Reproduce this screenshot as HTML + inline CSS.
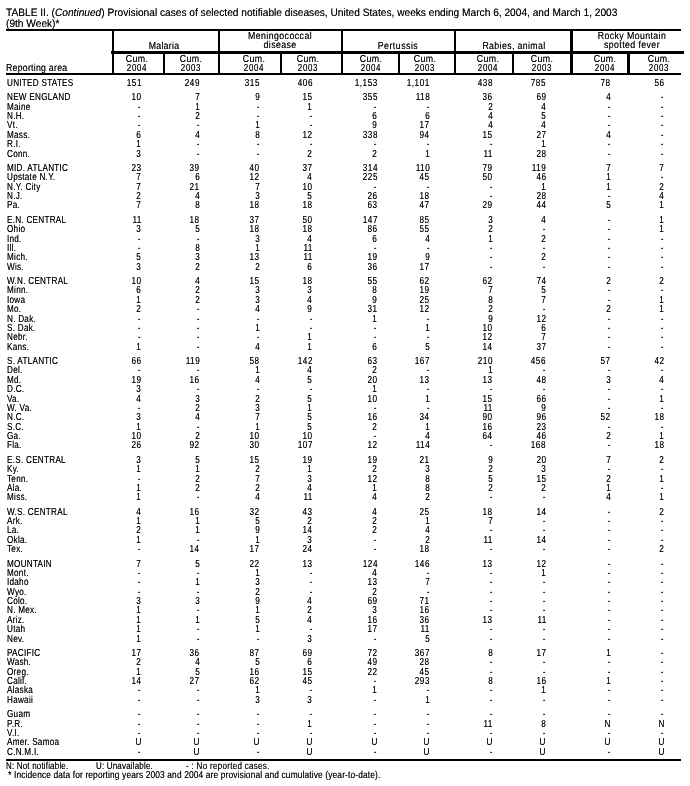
<!DOCTYPE html>
<html><head><meta charset="utf-8"><style>
html,body{margin:0;padding:0;background:#fff;}
body{width:690px;height:786px;position:relative;overflow:hidden;font-family:"Liberation Sans",sans-serif;color:#000;}
#w{position:absolute;left:0;top:0;width:690px;height:786px;will-change:transform;}
.t{position:absolute;white-space:nowrap;line-height:1;text-rendering:geometricPrecision;text-shadow:0px 0 0 rgba(0,0,0,0.6);}
.l{position:absolute;background:#000;}
</style></head><body><div id="w">
<div class="t" style="top:8px;font-size:10.75px;left:6.30px;transform:scaleX(0.945);transform-origin:0 0;">TABLE II. (<i>Continued</i>) Provisional cases of selected notifiable diseases, United States, weeks ending March 6, 2004, and March 1, 2003</div>
<div class="t" style="top:19px;font-size:10.75px;left:5.90px;transform:scaleX(0.945);transform-origin:0 0;">(9th Week)*</div>
<div class="l" style="left:6px;top:29px;width:675px;height:2px"></div>
<div class="l" style="left:111px;top:51.2px;width:573px;height:2.6px"></div>
<div class="l" style="left:6px;top:73px;width:675px;height:2px"></div>
<div class="l" style="left:6px;top:759px;width:675px;height:2px"></div>
<div class="l" style="left:112px;top:29px;width:2px;height:46px"></div>
<div class="l" style="left:218px;top:29px;width:2px;height:46px"></div>
<div class="l" style="left:341px;top:29px;width:2px;height:46px"></div>
<div class="l" style="left:454px;top:29px;width:2px;height:46px"></div>
<div class="l" style="left:570px;top:29px;width:2.8px;height:46px"></div>
<div class="l" style="left:163px;top:51.2px;width:2px;height:23.8px"></div>
<div class="l" style="left:279.5px;top:51.2px;width:2.6px;height:23.8px"></div>
<div class="l" style="left:398px;top:51.2px;width:2px;height:23.8px"></div>
<div class="l" style="left:512px;top:51.2px;width:2px;height:23.8px"></div>
<div class="l" style="left:627px;top:51.2px;width:2.8px;height:23.8px"></div>
<div class="t" style="top:64px;font-size:10.2px;letter-spacing:0.285px;left:5.95px;transform:scaleX(0.86);transform-origin:0 0;">Reporting area</div>
<div class="t" style="top:42px;font-size:10.2px;letter-spacing:0.303px;left:163.53px;transform:translateX(-50%) scaleX(0.86);">Malaria</div>
<div class="t" style="top:32px;font-size:10.2px;letter-spacing:0.515px;left:280.42px;transform:translateX(-50%) scaleX(0.86);">Meningococcal</div>
<div class="t" style="top:41px;font-size:10.2px;letter-spacing:0.446px;left:280.39px;transform:translateX(-50%) scaleX(0.86);">disease</div>
<div class="t" style="top:42px;font-size:10.2px;letter-spacing:0.575px;left:397.65px;transform:translateX(-50%) scaleX(0.86);">Pertussis</div>
<div class="t" style="top:42px;font-size:10.2px;letter-spacing:0.437px;left:514.49px;transform:translateX(-50%) scaleX(0.86);">Rabies, animal</div>
<div class="t" style="top:32px;font-size:10.2px;letter-spacing:0.458px;left:632.10px;transform:translateX(-50%) scaleX(0.86);">Rocky Mountain</div>
<div class="t" style="top:41px;font-size:10.2px;letter-spacing:0.474px;left:632.10px;transform:translateX(-50%) scaleX(0.86);">spotted fever</div>
<div class="t" style="top:55px;font-size:10.2px;letter-spacing:0.528px;left:136.73px;transform:translateX(-50%) scaleX(0.86);">Cum.</div>
<div class="t" style="top:64px;font-size:10.2px;letter-spacing:0.862px;left:136.84px;transform:translateX(-50%) scaleX(0.78);">2004</div>
<div class="t" style="top:55px;font-size:10.2px;letter-spacing:0.528px;left:190.83px;transform:translateX(-50%) scaleX(0.86);">Cum.</div>
<div class="t" style="top:64px;font-size:10.2px;letter-spacing:0.862px;left:190.94px;transform:translateX(-50%) scaleX(0.78);">2003</div>
<div class="t" style="top:55px;font-size:10.2px;letter-spacing:0.528px;left:253.83px;transform:translateX(-50%) scaleX(0.86);">Cum.</div>
<div class="t" style="top:64px;font-size:10.2px;letter-spacing:0.862px;left:253.94px;transform:translateX(-50%) scaleX(0.78);">2004</div>
<div class="t" style="top:55px;font-size:10.2px;letter-spacing:0.528px;left:307.53px;transform:translateX(-50%) scaleX(0.86);">Cum.</div>
<div class="t" style="top:64px;font-size:10.2px;letter-spacing:0.862px;left:307.64px;transform:translateX(-50%) scaleX(0.78);">2003</div>
<div class="t" style="top:55px;font-size:10.2px;letter-spacing:0.528px;left:370.73px;transform:translateX(-50%) scaleX(0.86);">Cum.</div>
<div class="t" style="top:64px;font-size:10.2px;letter-spacing:0.862px;left:370.84px;transform:translateX(-50%) scaleX(0.78);">2004</div>
<div class="t" style="top:55px;font-size:10.2px;letter-spacing:0.528px;left:424.63px;transform:translateX(-50%) scaleX(0.86);">Cum.</div>
<div class="t" style="top:64px;font-size:10.2px;letter-spacing:0.862px;left:424.74px;transform:translateX(-50%) scaleX(0.78);">2003</div>
<div class="t" style="top:55px;font-size:10.2px;letter-spacing:0.528px;left:487.93px;transform:translateX(-50%) scaleX(0.86);">Cum.</div>
<div class="t" style="top:64px;font-size:10.2px;letter-spacing:0.862px;left:488.04px;transform:translateX(-50%) scaleX(0.78);">2004</div>
<div class="t" style="top:55px;font-size:10.2px;letter-spacing:0.528px;left:541.83px;transform:translateX(-50%) scaleX(0.86);">Cum.</div>
<div class="t" style="top:64px;font-size:10.2px;letter-spacing:0.862px;left:541.94px;transform:translateX(-50%) scaleX(0.78);">2003</div>
<div class="t" style="top:55px;font-size:10.2px;letter-spacing:0.528px;left:604.73px;transform:translateX(-50%) scaleX(0.86);">Cum.</div>
<div class="t" style="top:64px;font-size:10.2px;letter-spacing:0.862px;left:604.84px;transform:translateX(-50%) scaleX(0.78);">2004</div>
<div class="t" style="top:55px;font-size:10.2px;letter-spacing:0.528px;left:658.93px;transform:translateX(-50%) scaleX(0.86);">Cum.</div>
<div class="t" style="top:64px;font-size:10.2px;letter-spacing:0.862px;left:659.04px;transform:translateX(-50%) scaleX(0.78);">2003</div>
<div class="t" style="top:79px;font-size:10.2px;letter-spacing:0.330px;left:6.86px;transform:scaleX(0.8);transform-origin:0 0;">UNITED STATES</div>
<div class="t" style="top:79px;font-size:10.2px;letter-spacing:0.650px;right:548.48px;transform:scaleX(0.8);transform-origin:100% 0;">151</div>
<div class="t" style="top:79px;font-size:10.2px;letter-spacing:0.650px;right:490.08px;transform:scaleX(0.8);transform-origin:100% 0;">249</div>
<div class="t" style="top:79px;font-size:10.2px;letter-spacing:0.650px;right:430.18px;transform:scaleX(0.8);transform-origin:100% 0;">315</div>
<div class="t" style="top:79px;font-size:10.2px;letter-spacing:0.650px;right:377.28px;transform:scaleX(0.8);transform-origin:100% 0;">406</div>
<div class="t" style="top:79px;font-size:10.2px;letter-spacing:0.650px;right:312.48px;transform:scaleX(0.8);transform-origin:100% 0;">1,153</div>
<div class="t" style="top:79px;font-size:10.2px;letter-spacing:0.650px;right:259.98px;transform:scaleX(0.8);transform-origin:100% 0;">1,101</div>
<div class="t" style="top:79px;font-size:10.2px;letter-spacing:0.650px;right:197.08px;transform:scaleX(0.8);transform-origin:100% 0;">438</div>
<div class="t" style="top:79px;font-size:10.2px;letter-spacing:0.650px;right:143.58px;transform:scaleX(0.8);transform-origin:100% 0;">785</div>
<div class="t" style="top:79px;font-size:10.2px;letter-spacing:0.650px;right:78.98px;transform:scaleX(0.8);transform-origin:100% 0;">78</div>
<div class="t" style="top:79px;font-size:10.2px;letter-spacing:0.650px;right:25.48px;transform:scaleX(0.8);transform-origin:100% 0;">56</div>
<div class="t" style="top:93px;font-size:10.2px;letter-spacing:0.330px;left:6.86px;transform:scaleX(0.8);transform-origin:0 0;">NEW ENGLAND</div>
<div class="t" style="top:93px;font-size:10.2px;letter-spacing:0.650px;right:548.48px;transform:scaleX(0.8);transform-origin:100% 0;">10</div>
<div class="t" style="top:93px;font-size:10.2px;letter-spacing:0.650px;right:490.08px;transform:scaleX(0.8);transform-origin:100% 0;">7</div>
<div class="t" style="top:93px;font-size:10.2px;letter-spacing:0.650px;right:430.18px;transform:scaleX(0.8);transform-origin:100% 0;">9</div>
<div class="t" style="top:93px;font-size:10.2px;letter-spacing:0.650px;right:377.28px;transform:scaleX(0.8);transform-origin:100% 0;">15</div>
<div class="t" style="top:93px;font-size:10.2px;letter-spacing:0.650px;right:312.48px;transform:scaleX(0.8);transform-origin:100% 0;">355</div>
<div class="t" style="top:93px;font-size:10.2px;letter-spacing:0.650px;right:259.98px;transform:scaleX(0.8);transform-origin:100% 0;">118</div>
<div class="t" style="top:93px;font-size:10.2px;letter-spacing:0.650px;right:197.08px;transform:scaleX(0.8);transform-origin:100% 0;">36</div>
<div class="t" style="top:93px;font-size:10.2px;letter-spacing:0.650px;right:143.58px;transform:scaleX(0.8);transform-origin:100% 0;">69</div>
<div class="t" style="top:93px;font-size:10.2px;letter-spacing:0.650px;right:78.98px;transform:scaleX(0.8);transform-origin:100% 0;">4</div>
<div class="t" style="top:93px;font-size:10.2px;letter-spacing:0.650px;right:25.48px;transform:scaleX(0.8);transform-origin:100% 0;">-</div>
<div class="t" style="top:103px;font-size:10.2px;letter-spacing:0.330px;left:6.86px;transform:scaleX(0.8);transform-origin:0 0;">Maine</div>
<div class="t" style="top:103px;font-size:10.2px;letter-spacing:0.650px;right:548.48px;transform:scaleX(0.8);transform-origin:100% 0;">-</div>
<div class="t" style="top:103px;font-size:10.2px;letter-spacing:0.650px;right:490.08px;transform:scaleX(0.8);transform-origin:100% 0;">1</div>
<div class="t" style="top:103px;font-size:10.2px;letter-spacing:0.650px;right:430.18px;transform:scaleX(0.8);transform-origin:100% 0;">-</div>
<div class="t" style="top:103px;font-size:10.2px;letter-spacing:0.650px;right:377.28px;transform:scaleX(0.8);transform-origin:100% 0;">1</div>
<div class="t" style="top:103px;font-size:10.2px;letter-spacing:0.650px;right:312.48px;transform:scaleX(0.8);transform-origin:100% 0;">-</div>
<div class="t" style="top:103px;font-size:10.2px;letter-spacing:0.650px;right:259.98px;transform:scaleX(0.8);transform-origin:100% 0;">-</div>
<div class="t" style="top:103px;font-size:10.2px;letter-spacing:0.650px;right:197.08px;transform:scaleX(0.8);transform-origin:100% 0;">2</div>
<div class="t" style="top:103px;font-size:10.2px;letter-spacing:0.650px;right:143.58px;transform:scaleX(0.8);transform-origin:100% 0;">4</div>
<div class="t" style="top:103px;font-size:10.2px;letter-spacing:0.650px;right:78.98px;transform:scaleX(0.8);transform-origin:100% 0;">-</div>
<div class="t" style="top:103px;font-size:10.2px;letter-spacing:0.650px;right:25.48px;transform:scaleX(0.8);transform-origin:100% 0;">-</div>
<div class="t" style="top:112px;font-size:10.2px;letter-spacing:0.330px;left:6.86px;transform:scaleX(0.8);transform-origin:0 0;">N.H.</div>
<div class="t" style="top:112px;font-size:10.2px;letter-spacing:0.650px;right:548.48px;transform:scaleX(0.8);transform-origin:100% 0;">-</div>
<div class="t" style="top:112px;font-size:10.2px;letter-spacing:0.650px;right:490.08px;transform:scaleX(0.8);transform-origin:100% 0;">2</div>
<div class="t" style="top:112px;font-size:10.2px;letter-spacing:0.650px;right:430.18px;transform:scaleX(0.8);transform-origin:100% 0;">-</div>
<div class="t" style="top:112px;font-size:10.2px;letter-spacing:0.650px;right:377.28px;transform:scaleX(0.8);transform-origin:100% 0;">-</div>
<div class="t" style="top:112px;font-size:10.2px;letter-spacing:0.650px;right:312.48px;transform:scaleX(0.8);transform-origin:100% 0;">6</div>
<div class="t" style="top:112px;font-size:10.2px;letter-spacing:0.650px;right:259.98px;transform:scaleX(0.8);transform-origin:100% 0;">6</div>
<div class="t" style="top:112px;font-size:10.2px;letter-spacing:0.650px;right:197.08px;transform:scaleX(0.8);transform-origin:100% 0;">4</div>
<div class="t" style="top:112px;font-size:10.2px;letter-spacing:0.650px;right:143.58px;transform:scaleX(0.8);transform-origin:100% 0;">5</div>
<div class="t" style="top:112px;font-size:10.2px;letter-spacing:0.650px;right:78.98px;transform:scaleX(0.8);transform-origin:100% 0;">-</div>
<div class="t" style="top:112px;font-size:10.2px;letter-spacing:0.650px;right:25.48px;transform:scaleX(0.8);transform-origin:100% 0;">-</div>
<div class="t" style="top:121px;font-size:10.2px;letter-spacing:0.330px;left:6.86px;transform:scaleX(0.8);transform-origin:0 0;">Vt.</div>
<div class="t" style="top:121px;font-size:10.2px;letter-spacing:0.650px;right:548.48px;transform:scaleX(0.8);transform-origin:100% 0;">-</div>
<div class="t" style="top:121px;font-size:10.2px;letter-spacing:0.650px;right:490.08px;transform:scaleX(0.8);transform-origin:100% 0;">-</div>
<div class="t" style="top:121px;font-size:10.2px;letter-spacing:0.650px;right:430.18px;transform:scaleX(0.8);transform-origin:100% 0;">1</div>
<div class="t" style="top:121px;font-size:10.2px;letter-spacing:0.650px;right:377.28px;transform:scaleX(0.8);transform-origin:100% 0;">-</div>
<div class="t" style="top:121px;font-size:10.2px;letter-spacing:0.650px;right:312.48px;transform:scaleX(0.8);transform-origin:100% 0;">9</div>
<div class="t" style="top:121px;font-size:10.2px;letter-spacing:0.650px;right:259.98px;transform:scaleX(0.8);transform-origin:100% 0;">17</div>
<div class="t" style="top:121px;font-size:10.2px;letter-spacing:0.650px;right:197.08px;transform:scaleX(0.8);transform-origin:100% 0;">4</div>
<div class="t" style="top:121px;font-size:10.2px;letter-spacing:0.650px;right:143.58px;transform:scaleX(0.8);transform-origin:100% 0;">4</div>
<div class="t" style="top:121px;font-size:10.2px;letter-spacing:0.650px;right:78.98px;transform:scaleX(0.8);transform-origin:100% 0;">-</div>
<div class="t" style="top:121px;font-size:10.2px;letter-spacing:0.650px;right:25.48px;transform:scaleX(0.8);transform-origin:100% 0;">-</div>
<div class="t" style="top:131px;font-size:10.2px;letter-spacing:0.330px;left:6.86px;transform:scaleX(0.8);transform-origin:0 0;">Mass.</div>
<div class="t" style="top:131px;font-size:10.2px;letter-spacing:0.650px;right:548.48px;transform:scaleX(0.8);transform-origin:100% 0;">6</div>
<div class="t" style="top:131px;font-size:10.2px;letter-spacing:0.650px;right:490.08px;transform:scaleX(0.8);transform-origin:100% 0;">4</div>
<div class="t" style="top:131px;font-size:10.2px;letter-spacing:0.650px;right:430.18px;transform:scaleX(0.8);transform-origin:100% 0;">8</div>
<div class="t" style="top:131px;font-size:10.2px;letter-spacing:0.650px;right:377.28px;transform:scaleX(0.8);transform-origin:100% 0;">12</div>
<div class="t" style="top:131px;font-size:10.2px;letter-spacing:0.650px;right:312.48px;transform:scaleX(0.8);transform-origin:100% 0;">338</div>
<div class="t" style="top:131px;font-size:10.2px;letter-spacing:0.650px;right:259.98px;transform:scaleX(0.8);transform-origin:100% 0;">94</div>
<div class="t" style="top:131px;font-size:10.2px;letter-spacing:0.650px;right:197.08px;transform:scaleX(0.8);transform-origin:100% 0;">15</div>
<div class="t" style="top:131px;font-size:10.2px;letter-spacing:0.650px;right:143.58px;transform:scaleX(0.8);transform-origin:100% 0;">27</div>
<div class="t" style="top:131px;font-size:10.2px;letter-spacing:0.650px;right:78.98px;transform:scaleX(0.8);transform-origin:100% 0;">4</div>
<div class="t" style="top:131px;font-size:10.2px;letter-spacing:0.650px;right:25.48px;transform:scaleX(0.8);transform-origin:100% 0;">-</div>
<div class="t" style="top:140px;font-size:10.2px;letter-spacing:0.330px;left:6.86px;transform:scaleX(0.8);transform-origin:0 0;">R.I.</div>
<div class="t" style="top:140px;font-size:10.2px;letter-spacing:0.650px;right:548.48px;transform:scaleX(0.8);transform-origin:100% 0;">1</div>
<div class="t" style="top:140px;font-size:10.2px;letter-spacing:0.650px;right:490.08px;transform:scaleX(0.8);transform-origin:100% 0;">-</div>
<div class="t" style="top:140px;font-size:10.2px;letter-spacing:0.650px;right:430.18px;transform:scaleX(0.8);transform-origin:100% 0;">-</div>
<div class="t" style="top:140px;font-size:10.2px;letter-spacing:0.650px;right:377.28px;transform:scaleX(0.8);transform-origin:100% 0;">-</div>
<div class="t" style="top:140px;font-size:10.2px;letter-spacing:0.650px;right:312.48px;transform:scaleX(0.8);transform-origin:100% 0;">-</div>
<div class="t" style="top:140px;font-size:10.2px;letter-spacing:0.650px;right:259.98px;transform:scaleX(0.8);transform-origin:100% 0;">-</div>
<div class="t" style="top:140px;font-size:10.2px;letter-spacing:0.650px;right:197.08px;transform:scaleX(0.8);transform-origin:100% 0;">-</div>
<div class="t" style="top:140px;font-size:10.2px;letter-spacing:0.650px;right:143.58px;transform:scaleX(0.8);transform-origin:100% 0;">1</div>
<div class="t" style="top:140px;font-size:10.2px;letter-spacing:0.650px;right:78.98px;transform:scaleX(0.8);transform-origin:100% 0;">-</div>
<div class="t" style="top:140px;font-size:10.2px;letter-spacing:0.650px;right:25.48px;transform:scaleX(0.8);transform-origin:100% 0;">-</div>
<div class="t" style="top:150px;font-size:10.2px;letter-spacing:0.330px;left:6.86px;transform:scaleX(0.8);transform-origin:0 0;">Conn.</div>
<div class="t" style="top:150px;font-size:10.2px;letter-spacing:0.650px;right:548.48px;transform:scaleX(0.8);transform-origin:100% 0;">3</div>
<div class="t" style="top:150px;font-size:10.2px;letter-spacing:0.650px;right:490.08px;transform:scaleX(0.8);transform-origin:100% 0;">-</div>
<div class="t" style="top:150px;font-size:10.2px;letter-spacing:0.650px;right:430.18px;transform:scaleX(0.8);transform-origin:100% 0;">-</div>
<div class="t" style="top:150px;font-size:10.2px;letter-spacing:0.650px;right:377.28px;transform:scaleX(0.8);transform-origin:100% 0;">2</div>
<div class="t" style="top:150px;font-size:10.2px;letter-spacing:0.650px;right:312.48px;transform:scaleX(0.8);transform-origin:100% 0;">2</div>
<div class="t" style="top:150px;font-size:10.2px;letter-spacing:0.650px;right:259.98px;transform:scaleX(0.8);transform-origin:100% 0;">1</div>
<div class="t" style="top:150px;font-size:10.2px;letter-spacing:0.650px;right:197.08px;transform:scaleX(0.8);transform-origin:100% 0;">11</div>
<div class="t" style="top:150px;font-size:10.2px;letter-spacing:0.650px;right:143.58px;transform:scaleX(0.8);transform-origin:100% 0;">28</div>
<div class="t" style="top:150px;font-size:10.2px;letter-spacing:0.650px;right:78.98px;transform:scaleX(0.8);transform-origin:100% 0;">-</div>
<div class="t" style="top:150px;font-size:10.2px;letter-spacing:0.650px;right:25.48px;transform:scaleX(0.8);transform-origin:100% 0;">-</div>
<div class="t" style="top:164px;font-size:10.2px;letter-spacing:0.330px;left:6.86px;transform:scaleX(0.8);transform-origin:0 0;">MID. ATLANTIC</div>
<div class="t" style="top:164px;font-size:10.2px;letter-spacing:0.650px;right:548.48px;transform:scaleX(0.8);transform-origin:100% 0;">23</div>
<div class="t" style="top:164px;font-size:10.2px;letter-spacing:0.650px;right:490.08px;transform:scaleX(0.8);transform-origin:100% 0;">39</div>
<div class="t" style="top:164px;font-size:10.2px;letter-spacing:0.650px;right:430.18px;transform:scaleX(0.8);transform-origin:100% 0;">40</div>
<div class="t" style="top:164px;font-size:10.2px;letter-spacing:0.650px;right:377.28px;transform:scaleX(0.8);transform-origin:100% 0;">37</div>
<div class="t" style="top:164px;font-size:10.2px;letter-spacing:0.650px;right:312.48px;transform:scaleX(0.8);transform-origin:100% 0;">314</div>
<div class="t" style="top:164px;font-size:10.2px;letter-spacing:0.650px;right:259.98px;transform:scaleX(0.8);transform-origin:100% 0;">110</div>
<div class="t" style="top:164px;font-size:10.2px;letter-spacing:0.650px;right:197.08px;transform:scaleX(0.8);transform-origin:100% 0;">79</div>
<div class="t" style="top:164px;font-size:10.2px;letter-spacing:0.650px;right:143.58px;transform:scaleX(0.8);transform-origin:100% 0;">119</div>
<div class="t" style="top:164px;font-size:10.2px;letter-spacing:0.650px;right:78.98px;transform:scaleX(0.8);transform-origin:100% 0;">7</div>
<div class="t" style="top:164px;font-size:10.2px;letter-spacing:0.650px;right:25.48px;transform:scaleX(0.8);transform-origin:100% 0;">7</div>
<div class="t" style="top:173px;font-size:10.2px;letter-spacing:0.330px;left:6.86px;transform:scaleX(0.8);transform-origin:0 0;">Upstate N.Y.</div>
<div class="t" style="top:173px;font-size:10.2px;letter-spacing:0.650px;right:548.48px;transform:scaleX(0.8);transform-origin:100% 0;">7</div>
<div class="t" style="top:173px;font-size:10.2px;letter-spacing:0.650px;right:490.08px;transform:scaleX(0.8);transform-origin:100% 0;">6</div>
<div class="t" style="top:173px;font-size:10.2px;letter-spacing:0.650px;right:430.18px;transform:scaleX(0.8);transform-origin:100% 0;">12</div>
<div class="t" style="top:173px;font-size:10.2px;letter-spacing:0.650px;right:377.28px;transform:scaleX(0.8);transform-origin:100% 0;">4</div>
<div class="t" style="top:173px;font-size:10.2px;letter-spacing:0.650px;right:312.48px;transform:scaleX(0.8);transform-origin:100% 0;">225</div>
<div class="t" style="top:173px;font-size:10.2px;letter-spacing:0.650px;right:259.98px;transform:scaleX(0.8);transform-origin:100% 0;">45</div>
<div class="t" style="top:173px;font-size:10.2px;letter-spacing:0.650px;right:197.08px;transform:scaleX(0.8);transform-origin:100% 0;">50</div>
<div class="t" style="top:173px;font-size:10.2px;letter-spacing:0.650px;right:143.58px;transform:scaleX(0.8);transform-origin:100% 0;">46</div>
<div class="t" style="top:173px;font-size:10.2px;letter-spacing:0.650px;right:78.98px;transform:scaleX(0.8);transform-origin:100% 0;">1</div>
<div class="t" style="top:173px;font-size:10.2px;letter-spacing:0.650px;right:25.48px;transform:scaleX(0.8);transform-origin:100% 0;">-</div>
<div class="t" style="top:183px;font-size:10.2px;letter-spacing:0.330px;left:6.86px;transform:scaleX(0.8);transform-origin:0 0;">N.Y. City</div>
<div class="t" style="top:183px;font-size:10.2px;letter-spacing:0.650px;right:548.48px;transform:scaleX(0.8);transform-origin:100% 0;">7</div>
<div class="t" style="top:183px;font-size:10.2px;letter-spacing:0.650px;right:490.08px;transform:scaleX(0.8);transform-origin:100% 0;">21</div>
<div class="t" style="top:183px;font-size:10.2px;letter-spacing:0.650px;right:430.18px;transform:scaleX(0.8);transform-origin:100% 0;">7</div>
<div class="t" style="top:183px;font-size:10.2px;letter-spacing:0.650px;right:377.28px;transform:scaleX(0.8);transform-origin:100% 0;">10</div>
<div class="t" style="top:183px;font-size:10.2px;letter-spacing:0.650px;right:312.48px;transform:scaleX(0.8);transform-origin:100% 0;">-</div>
<div class="t" style="top:183px;font-size:10.2px;letter-spacing:0.650px;right:259.98px;transform:scaleX(0.8);transform-origin:100% 0;">-</div>
<div class="t" style="top:183px;font-size:10.2px;letter-spacing:0.650px;right:197.08px;transform:scaleX(0.8);transform-origin:100% 0;">-</div>
<div class="t" style="top:183px;font-size:10.2px;letter-spacing:0.650px;right:143.58px;transform:scaleX(0.8);transform-origin:100% 0;">1</div>
<div class="t" style="top:183px;font-size:10.2px;letter-spacing:0.650px;right:78.98px;transform:scaleX(0.8);transform-origin:100% 0;">1</div>
<div class="t" style="top:183px;font-size:10.2px;letter-spacing:0.650px;right:25.48px;transform:scaleX(0.8);transform-origin:100% 0;">2</div>
<div class="t" style="top:192px;font-size:10.2px;letter-spacing:0.330px;left:6.86px;transform:scaleX(0.8);transform-origin:0 0;">N.J.</div>
<div class="t" style="top:192px;font-size:10.2px;letter-spacing:0.650px;right:548.48px;transform:scaleX(0.8);transform-origin:100% 0;">2</div>
<div class="t" style="top:192px;font-size:10.2px;letter-spacing:0.650px;right:490.08px;transform:scaleX(0.8);transform-origin:100% 0;">4</div>
<div class="t" style="top:192px;font-size:10.2px;letter-spacing:0.650px;right:430.18px;transform:scaleX(0.8);transform-origin:100% 0;">3</div>
<div class="t" style="top:192px;font-size:10.2px;letter-spacing:0.650px;right:377.28px;transform:scaleX(0.8);transform-origin:100% 0;">5</div>
<div class="t" style="top:192px;font-size:10.2px;letter-spacing:0.650px;right:312.48px;transform:scaleX(0.8);transform-origin:100% 0;">26</div>
<div class="t" style="top:192px;font-size:10.2px;letter-spacing:0.650px;right:259.98px;transform:scaleX(0.8);transform-origin:100% 0;">18</div>
<div class="t" style="top:192px;font-size:10.2px;letter-spacing:0.650px;right:197.08px;transform:scaleX(0.8);transform-origin:100% 0;">-</div>
<div class="t" style="top:192px;font-size:10.2px;letter-spacing:0.650px;right:143.58px;transform:scaleX(0.8);transform-origin:100% 0;">28</div>
<div class="t" style="top:192px;font-size:10.2px;letter-spacing:0.650px;right:78.98px;transform:scaleX(0.8);transform-origin:100% 0;">-</div>
<div class="t" style="top:192px;font-size:10.2px;letter-spacing:0.650px;right:25.48px;transform:scaleX(0.8);transform-origin:100% 0;">4</div>
<div class="t" style="top:201px;font-size:10.2px;letter-spacing:0.330px;left:6.86px;transform:scaleX(0.8);transform-origin:0 0;">Pa.</div>
<div class="t" style="top:201px;font-size:10.2px;letter-spacing:0.650px;right:548.48px;transform:scaleX(0.8);transform-origin:100% 0;">7</div>
<div class="t" style="top:201px;font-size:10.2px;letter-spacing:0.650px;right:490.08px;transform:scaleX(0.8);transform-origin:100% 0;">8</div>
<div class="t" style="top:201px;font-size:10.2px;letter-spacing:0.650px;right:430.18px;transform:scaleX(0.8);transform-origin:100% 0;">18</div>
<div class="t" style="top:201px;font-size:10.2px;letter-spacing:0.650px;right:377.28px;transform:scaleX(0.8);transform-origin:100% 0;">18</div>
<div class="t" style="top:201px;font-size:10.2px;letter-spacing:0.650px;right:312.48px;transform:scaleX(0.8);transform-origin:100% 0;">63</div>
<div class="t" style="top:201px;font-size:10.2px;letter-spacing:0.650px;right:259.98px;transform:scaleX(0.8);transform-origin:100% 0;">47</div>
<div class="t" style="top:201px;font-size:10.2px;letter-spacing:0.650px;right:197.08px;transform:scaleX(0.8);transform-origin:100% 0;">29</div>
<div class="t" style="top:201px;font-size:10.2px;letter-spacing:0.650px;right:143.58px;transform:scaleX(0.8);transform-origin:100% 0;">44</div>
<div class="t" style="top:201px;font-size:10.2px;letter-spacing:0.650px;right:78.98px;transform:scaleX(0.8);transform-origin:100% 0;">5</div>
<div class="t" style="top:201px;font-size:10.2px;letter-spacing:0.650px;right:25.48px;transform:scaleX(0.8);transform-origin:100% 0;">1</div>
<div class="t" style="top:216px;font-size:10.2px;letter-spacing:0.330px;left:6.86px;transform:scaleX(0.8);transform-origin:0 0;">E.N. CENTRAL</div>
<div class="t" style="top:216px;font-size:10.2px;letter-spacing:0.650px;right:548.48px;transform:scaleX(0.8);transform-origin:100% 0;">11</div>
<div class="t" style="top:216px;font-size:10.2px;letter-spacing:0.650px;right:490.08px;transform:scaleX(0.8);transform-origin:100% 0;">18</div>
<div class="t" style="top:216px;font-size:10.2px;letter-spacing:0.650px;right:430.18px;transform:scaleX(0.8);transform-origin:100% 0;">37</div>
<div class="t" style="top:216px;font-size:10.2px;letter-spacing:0.650px;right:377.28px;transform:scaleX(0.8);transform-origin:100% 0;">50</div>
<div class="t" style="top:216px;font-size:10.2px;letter-spacing:0.650px;right:312.48px;transform:scaleX(0.8);transform-origin:100% 0;">147</div>
<div class="t" style="top:216px;font-size:10.2px;letter-spacing:0.650px;right:259.98px;transform:scaleX(0.8);transform-origin:100% 0;">85</div>
<div class="t" style="top:216px;font-size:10.2px;letter-spacing:0.650px;right:197.08px;transform:scaleX(0.8);transform-origin:100% 0;">3</div>
<div class="t" style="top:216px;font-size:10.2px;letter-spacing:0.650px;right:143.58px;transform:scaleX(0.8);transform-origin:100% 0;">4</div>
<div class="t" style="top:216px;font-size:10.2px;letter-spacing:0.650px;right:78.98px;transform:scaleX(0.8);transform-origin:100% 0;">-</div>
<div class="t" style="top:216px;font-size:10.2px;letter-spacing:0.650px;right:25.48px;transform:scaleX(0.8);transform-origin:100% 0;">1</div>
<div class="t" style="top:225px;font-size:10.2px;letter-spacing:0.330px;left:6.86px;transform:scaleX(0.8);transform-origin:0 0;">Ohio</div>
<div class="t" style="top:225px;font-size:10.2px;letter-spacing:0.650px;right:548.48px;transform:scaleX(0.8);transform-origin:100% 0;">3</div>
<div class="t" style="top:225px;font-size:10.2px;letter-spacing:0.650px;right:490.08px;transform:scaleX(0.8);transform-origin:100% 0;">5</div>
<div class="t" style="top:225px;font-size:10.2px;letter-spacing:0.650px;right:430.18px;transform:scaleX(0.8);transform-origin:100% 0;">18</div>
<div class="t" style="top:225px;font-size:10.2px;letter-spacing:0.650px;right:377.28px;transform:scaleX(0.8);transform-origin:100% 0;">18</div>
<div class="t" style="top:225px;font-size:10.2px;letter-spacing:0.650px;right:312.48px;transform:scaleX(0.8);transform-origin:100% 0;">86</div>
<div class="t" style="top:225px;font-size:10.2px;letter-spacing:0.650px;right:259.98px;transform:scaleX(0.8);transform-origin:100% 0;">55</div>
<div class="t" style="top:225px;font-size:10.2px;letter-spacing:0.650px;right:197.08px;transform:scaleX(0.8);transform-origin:100% 0;">2</div>
<div class="t" style="top:225px;font-size:10.2px;letter-spacing:0.650px;right:143.58px;transform:scaleX(0.8);transform-origin:100% 0;">-</div>
<div class="t" style="top:225px;font-size:10.2px;letter-spacing:0.650px;right:78.98px;transform:scaleX(0.8);transform-origin:100% 0;">-</div>
<div class="t" style="top:225px;font-size:10.2px;letter-spacing:0.650px;right:25.48px;transform:scaleX(0.8);transform-origin:100% 0;">1</div>
<div class="t" style="top:235px;font-size:10.2px;letter-spacing:0.330px;left:6.86px;transform:scaleX(0.8);transform-origin:0 0;">Ind.</div>
<div class="t" style="top:235px;font-size:10.2px;letter-spacing:0.650px;right:548.48px;transform:scaleX(0.8);transform-origin:100% 0;">-</div>
<div class="t" style="top:235px;font-size:10.2px;letter-spacing:0.650px;right:490.08px;transform:scaleX(0.8);transform-origin:100% 0;">-</div>
<div class="t" style="top:235px;font-size:10.2px;letter-spacing:0.650px;right:430.18px;transform:scaleX(0.8);transform-origin:100% 0;">3</div>
<div class="t" style="top:235px;font-size:10.2px;letter-spacing:0.650px;right:377.28px;transform:scaleX(0.8);transform-origin:100% 0;">4</div>
<div class="t" style="top:235px;font-size:10.2px;letter-spacing:0.650px;right:312.48px;transform:scaleX(0.8);transform-origin:100% 0;">6</div>
<div class="t" style="top:235px;font-size:10.2px;letter-spacing:0.650px;right:259.98px;transform:scaleX(0.8);transform-origin:100% 0;">4</div>
<div class="t" style="top:235px;font-size:10.2px;letter-spacing:0.650px;right:197.08px;transform:scaleX(0.8);transform-origin:100% 0;">1</div>
<div class="t" style="top:235px;font-size:10.2px;letter-spacing:0.650px;right:143.58px;transform:scaleX(0.8);transform-origin:100% 0;">2</div>
<div class="t" style="top:235px;font-size:10.2px;letter-spacing:0.650px;right:78.98px;transform:scaleX(0.8);transform-origin:100% 0;">-</div>
<div class="t" style="top:235px;font-size:10.2px;letter-spacing:0.650px;right:25.48px;transform:scaleX(0.8);transform-origin:100% 0;">-</div>
<div class="t" style="top:244px;font-size:10.2px;letter-spacing:0.330px;left:6.86px;transform:scaleX(0.8);transform-origin:0 0;">Ill.</div>
<div class="t" style="top:244px;font-size:10.2px;letter-spacing:0.650px;right:548.48px;transform:scaleX(0.8);transform-origin:100% 0;">-</div>
<div class="t" style="top:244px;font-size:10.2px;letter-spacing:0.650px;right:490.08px;transform:scaleX(0.8);transform-origin:100% 0;">8</div>
<div class="t" style="top:244px;font-size:10.2px;letter-spacing:0.650px;right:430.18px;transform:scaleX(0.8);transform-origin:100% 0;">1</div>
<div class="t" style="top:244px;font-size:10.2px;letter-spacing:0.650px;right:377.28px;transform:scaleX(0.8);transform-origin:100% 0;">11</div>
<div class="t" style="top:244px;font-size:10.2px;letter-spacing:0.650px;right:312.48px;transform:scaleX(0.8);transform-origin:100% 0;">-</div>
<div class="t" style="top:244px;font-size:10.2px;letter-spacing:0.650px;right:259.98px;transform:scaleX(0.8);transform-origin:100% 0;">-</div>
<div class="t" style="top:244px;font-size:10.2px;letter-spacing:0.650px;right:197.08px;transform:scaleX(0.8);transform-origin:100% 0;">-</div>
<div class="t" style="top:244px;font-size:10.2px;letter-spacing:0.650px;right:143.58px;transform:scaleX(0.8);transform-origin:100% 0;">-</div>
<div class="t" style="top:244px;font-size:10.2px;letter-spacing:0.650px;right:78.98px;transform:scaleX(0.8);transform-origin:100% 0;">-</div>
<div class="t" style="top:244px;font-size:10.2px;letter-spacing:0.650px;right:25.48px;transform:scaleX(0.8);transform-origin:100% 0;">-</div>
<div class="t" style="top:253px;font-size:10.2px;letter-spacing:0.330px;left:6.86px;transform:scaleX(0.8);transform-origin:0 0;">Mich.</div>
<div class="t" style="top:253px;font-size:10.2px;letter-spacing:0.650px;right:548.48px;transform:scaleX(0.8);transform-origin:100% 0;">5</div>
<div class="t" style="top:253px;font-size:10.2px;letter-spacing:0.650px;right:490.08px;transform:scaleX(0.8);transform-origin:100% 0;">3</div>
<div class="t" style="top:253px;font-size:10.2px;letter-spacing:0.650px;right:430.18px;transform:scaleX(0.8);transform-origin:100% 0;">13</div>
<div class="t" style="top:253px;font-size:10.2px;letter-spacing:0.650px;right:377.28px;transform:scaleX(0.8);transform-origin:100% 0;">11</div>
<div class="t" style="top:253px;font-size:10.2px;letter-spacing:0.650px;right:312.48px;transform:scaleX(0.8);transform-origin:100% 0;">19</div>
<div class="t" style="top:253px;font-size:10.2px;letter-spacing:0.650px;right:259.98px;transform:scaleX(0.8);transform-origin:100% 0;">9</div>
<div class="t" style="top:253px;font-size:10.2px;letter-spacing:0.650px;right:197.08px;transform:scaleX(0.8);transform-origin:100% 0;">-</div>
<div class="t" style="top:253px;font-size:10.2px;letter-spacing:0.650px;right:143.58px;transform:scaleX(0.8);transform-origin:100% 0;">2</div>
<div class="t" style="top:253px;font-size:10.2px;letter-spacing:0.650px;right:78.98px;transform:scaleX(0.8);transform-origin:100% 0;">-</div>
<div class="t" style="top:253px;font-size:10.2px;letter-spacing:0.650px;right:25.48px;transform:scaleX(0.8);transform-origin:100% 0;">-</div>
<div class="t" style="top:263px;font-size:10.2px;letter-spacing:0.330px;left:6.86px;transform:scaleX(0.8);transform-origin:0 0;">Wis.</div>
<div class="t" style="top:263px;font-size:10.2px;letter-spacing:0.650px;right:548.48px;transform:scaleX(0.8);transform-origin:100% 0;">3</div>
<div class="t" style="top:263px;font-size:10.2px;letter-spacing:0.650px;right:490.08px;transform:scaleX(0.8);transform-origin:100% 0;">2</div>
<div class="t" style="top:263px;font-size:10.2px;letter-spacing:0.650px;right:430.18px;transform:scaleX(0.8);transform-origin:100% 0;">2</div>
<div class="t" style="top:263px;font-size:10.2px;letter-spacing:0.650px;right:377.28px;transform:scaleX(0.8);transform-origin:100% 0;">6</div>
<div class="t" style="top:263px;font-size:10.2px;letter-spacing:0.650px;right:312.48px;transform:scaleX(0.8);transform-origin:100% 0;">36</div>
<div class="t" style="top:263px;font-size:10.2px;letter-spacing:0.650px;right:259.98px;transform:scaleX(0.8);transform-origin:100% 0;">17</div>
<div class="t" style="top:263px;font-size:10.2px;letter-spacing:0.650px;right:197.08px;transform:scaleX(0.8);transform-origin:100% 0;">-</div>
<div class="t" style="top:263px;font-size:10.2px;letter-spacing:0.650px;right:143.58px;transform:scaleX(0.8);transform-origin:100% 0;">-</div>
<div class="t" style="top:263px;font-size:10.2px;letter-spacing:0.650px;right:78.98px;transform:scaleX(0.8);transform-origin:100% 0;">-</div>
<div class="t" style="top:263px;font-size:10.2px;letter-spacing:0.650px;right:25.48px;transform:scaleX(0.8);transform-origin:100% 0;">-</div>
<div class="t" style="top:277px;font-size:10.2px;letter-spacing:0.330px;left:6.86px;transform:scaleX(0.8);transform-origin:0 0;">W.N. CENTRAL</div>
<div class="t" style="top:277px;font-size:10.2px;letter-spacing:0.650px;right:548.48px;transform:scaleX(0.8);transform-origin:100% 0;">10</div>
<div class="t" style="top:277px;font-size:10.2px;letter-spacing:0.650px;right:490.08px;transform:scaleX(0.8);transform-origin:100% 0;">4</div>
<div class="t" style="top:277px;font-size:10.2px;letter-spacing:0.650px;right:430.18px;transform:scaleX(0.8);transform-origin:100% 0;">15</div>
<div class="t" style="top:277px;font-size:10.2px;letter-spacing:0.650px;right:377.28px;transform:scaleX(0.8);transform-origin:100% 0;">18</div>
<div class="t" style="top:277px;font-size:10.2px;letter-spacing:0.650px;right:312.48px;transform:scaleX(0.8);transform-origin:100% 0;">55</div>
<div class="t" style="top:277px;font-size:10.2px;letter-spacing:0.650px;right:259.98px;transform:scaleX(0.8);transform-origin:100% 0;">62</div>
<div class="t" style="top:277px;font-size:10.2px;letter-spacing:0.650px;right:197.08px;transform:scaleX(0.8);transform-origin:100% 0;">62</div>
<div class="t" style="top:277px;font-size:10.2px;letter-spacing:0.650px;right:143.58px;transform:scaleX(0.8);transform-origin:100% 0;">74</div>
<div class="t" style="top:277px;font-size:10.2px;letter-spacing:0.650px;right:78.98px;transform:scaleX(0.8);transform-origin:100% 0;">2</div>
<div class="t" style="top:277px;font-size:10.2px;letter-spacing:0.650px;right:25.48px;transform:scaleX(0.8);transform-origin:100% 0;">2</div>
<div class="t" style="top:286px;font-size:10.2px;letter-spacing:0.330px;left:6.86px;transform:scaleX(0.8);transform-origin:0 0;">Minn.</div>
<div class="t" style="top:286px;font-size:10.2px;letter-spacing:0.650px;right:548.48px;transform:scaleX(0.8);transform-origin:100% 0;">6</div>
<div class="t" style="top:286px;font-size:10.2px;letter-spacing:0.650px;right:490.08px;transform:scaleX(0.8);transform-origin:100% 0;">2</div>
<div class="t" style="top:286px;font-size:10.2px;letter-spacing:0.650px;right:430.18px;transform:scaleX(0.8);transform-origin:100% 0;">3</div>
<div class="t" style="top:286px;font-size:10.2px;letter-spacing:0.650px;right:377.28px;transform:scaleX(0.8);transform-origin:100% 0;">3</div>
<div class="t" style="top:286px;font-size:10.2px;letter-spacing:0.650px;right:312.48px;transform:scaleX(0.8);transform-origin:100% 0;">8</div>
<div class="t" style="top:286px;font-size:10.2px;letter-spacing:0.650px;right:259.98px;transform:scaleX(0.8);transform-origin:100% 0;">19</div>
<div class="t" style="top:286px;font-size:10.2px;letter-spacing:0.650px;right:197.08px;transform:scaleX(0.8);transform-origin:100% 0;">7</div>
<div class="t" style="top:286px;font-size:10.2px;letter-spacing:0.650px;right:143.58px;transform:scaleX(0.8);transform-origin:100% 0;">5</div>
<div class="t" style="top:286px;font-size:10.2px;letter-spacing:0.650px;right:78.98px;transform:scaleX(0.8);transform-origin:100% 0;">-</div>
<div class="t" style="top:286px;font-size:10.2px;letter-spacing:0.650px;right:25.48px;transform:scaleX(0.8);transform-origin:100% 0;">-</div>
<div class="t" style="top:296px;font-size:10.2px;letter-spacing:0.330px;left:6.86px;transform:scaleX(0.8);transform-origin:0 0;">Iowa</div>
<div class="t" style="top:296px;font-size:10.2px;letter-spacing:0.650px;right:548.48px;transform:scaleX(0.8);transform-origin:100% 0;">1</div>
<div class="t" style="top:296px;font-size:10.2px;letter-spacing:0.650px;right:490.08px;transform:scaleX(0.8);transform-origin:100% 0;">2</div>
<div class="t" style="top:296px;font-size:10.2px;letter-spacing:0.650px;right:430.18px;transform:scaleX(0.8);transform-origin:100% 0;">3</div>
<div class="t" style="top:296px;font-size:10.2px;letter-spacing:0.650px;right:377.28px;transform:scaleX(0.8);transform-origin:100% 0;">4</div>
<div class="t" style="top:296px;font-size:10.2px;letter-spacing:0.650px;right:312.48px;transform:scaleX(0.8);transform-origin:100% 0;">9</div>
<div class="t" style="top:296px;font-size:10.2px;letter-spacing:0.650px;right:259.98px;transform:scaleX(0.8);transform-origin:100% 0;">25</div>
<div class="t" style="top:296px;font-size:10.2px;letter-spacing:0.650px;right:197.08px;transform:scaleX(0.8);transform-origin:100% 0;">8</div>
<div class="t" style="top:296px;font-size:10.2px;letter-spacing:0.650px;right:143.58px;transform:scaleX(0.8);transform-origin:100% 0;">7</div>
<div class="t" style="top:296px;font-size:10.2px;letter-spacing:0.650px;right:78.98px;transform:scaleX(0.8);transform-origin:100% 0;">-</div>
<div class="t" style="top:296px;font-size:10.2px;letter-spacing:0.650px;right:25.48px;transform:scaleX(0.8);transform-origin:100% 0;">1</div>
<div class="t" style="top:305px;font-size:10.2px;letter-spacing:0.330px;left:6.86px;transform:scaleX(0.8);transform-origin:0 0;">Mo.</div>
<div class="t" style="top:305px;font-size:10.2px;letter-spacing:0.650px;right:548.48px;transform:scaleX(0.8);transform-origin:100% 0;">2</div>
<div class="t" style="top:305px;font-size:10.2px;letter-spacing:0.650px;right:490.08px;transform:scaleX(0.8);transform-origin:100% 0;">-</div>
<div class="t" style="top:305px;font-size:10.2px;letter-spacing:0.650px;right:430.18px;transform:scaleX(0.8);transform-origin:100% 0;">4</div>
<div class="t" style="top:305px;font-size:10.2px;letter-spacing:0.650px;right:377.28px;transform:scaleX(0.8);transform-origin:100% 0;">9</div>
<div class="t" style="top:305px;font-size:10.2px;letter-spacing:0.650px;right:312.48px;transform:scaleX(0.8);transform-origin:100% 0;">31</div>
<div class="t" style="top:305px;font-size:10.2px;letter-spacing:0.650px;right:259.98px;transform:scaleX(0.8);transform-origin:100% 0;">12</div>
<div class="t" style="top:305px;font-size:10.2px;letter-spacing:0.650px;right:197.08px;transform:scaleX(0.8);transform-origin:100% 0;">2</div>
<div class="t" style="top:305px;font-size:10.2px;letter-spacing:0.650px;right:143.58px;transform:scaleX(0.8);transform-origin:100% 0;">-</div>
<div class="t" style="top:305px;font-size:10.2px;letter-spacing:0.650px;right:78.98px;transform:scaleX(0.8);transform-origin:100% 0;">2</div>
<div class="t" style="top:305px;font-size:10.2px;letter-spacing:0.650px;right:25.48px;transform:scaleX(0.8);transform-origin:100% 0;">1</div>
<div class="t" style="top:315px;font-size:10.2px;letter-spacing:0.330px;left:6.86px;transform:scaleX(0.8);transform-origin:0 0;">N. Dak.</div>
<div class="t" style="top:315px;font-size:10.2px;letter-spacing:0.650px;right:548.48px;transform:scaleX(0.8);transform-origin:100% 0;">-</div>
<div class="t" style="top:315px;font-size:10.2px;letter-spacing:0.650px;right:490.08px;transform:scaleX(0.8);transform-origin:100% 0;">-</div>
<div class="t" style="top:315px;font-size:10.2px;letter-spacing:0.650px;right:430.18px;transform:scaleX(0.8);transform-origin:100% 0;">-</div>
<div class="t" style="top:315px;font-size:10.2px;letter-spacing:0.650px;right:377.28px;transform:scaleX(0.8);transform-origin:100% 0;">-</div>
<div class="t" style="top:315px;font-size:10.2px;letter-spacing:0.650px;right:312.48px;transform:scaleX(0.8);transform-origin:100% 0;">1</div>
<div class="t" style="top:315px;font-size:10.2px;letter-spacing:0.650px;right:259.98px;transform:scaleX(0.8);transform-origin:100% 0;">-</div>
<div class="t" style="top:315px;font-size:10.2px;letter-spacing:0.650px;right:197.08px;transform:scaleX(0.8);transform-origin:100% 0;">9</div>
<div class="t" style="top:315px;font-size:10.2px;letter-spacing:0.650px;right:143.58px;transform:scaleX(0.8);transform-origin:100% 0;">12</div>
<div class="t" style="top:315px;font-size:10.2px;letter-spacing:0.650px;right:78.98px;transform:scaleX(0.8);transform-origin:100% 0;">-</div>
<div class="t" style="top:315px;font-size:10.2px;letter-spacing:0.650px;right:25.48px;transform:scaleX(0.8);transform-origin:100% 0;">-</div>
<div class="t" style="top:324px;font-size:10.2px;letter-spacing:0.330px;left:6.86px;transform:scaleX(0.8);transform-origin:0 0;">S. Dak.</div>
<div class="t" style="top:324px;font-size:10.2px;letter-spacing:0.650px;right:548.48px;transform:scaleX(0.8);transform-origin:100% 0;">-</div>
<div class="t" style="top:324px;font-size:10.2px;letter-spacing:0.650px;right:490.08px;transform:scaleX(0.8);transform-origin:100% 0;">-</div>
<div class="t" style="top:324px;font-size:10.2px;letter-spacing:0.650px;right:430.18px;transform:scaleX(0.8);transform-origin:100% 0;">1</div>
<div class="t" style="top:324px;font-size:10.2px;letter-spacing:0.650px;right:377.28px;transform:scaleX(0.8);transform-origin:100% 0;">-</div>
<div class="t" style="top:324px;font-size:10.2px;letter-spacing:0.650px;right:312.48px;transform:scaleX(0.8);transform-origin:100% 0;">-</div>
<div class="t" style="top:324px;font-size:10.2px;letter-spacing:0.650px;right:259.98px;transform:scaleX(0.8);transform-origin:100% 0;">1</div>
<div class="t" style="top:324px;font-size:10.2px;letter-spacing:0.650px;right:197.08px;transform:scaleX(0.8);transform-origin:100% 0;">10</div>
<div class="t" style="top:324px;font-size:10.2px;letter-spacing:0.650px;right:143.58px;transform:scaleX(0.8);transform-origin:100% 0;">6</div>
<div class="t" style="top:324px;font-size:10.2px;letter-spacing:0.650px;right:78.98px;transform:scaleX(0.8);transform-origin:100% 0;">-</div>
<div class="t" style="top:324px;font-size:10.2px;letter-spacing:0.650px;right:25.48px;transform:scaleX(0.8);transform-origin:100% 0;">-</div>
<div class="t" style="top:333px;font-size:10.2px;letter-spacing:0.330px;left:6.86px;transform:scaleX(0.8);transform-origin:0 0;">Nebr.</div>
<div class="t" style="top:333px;font-size:10.2px;letter-spacing:0.650px;right:548.48px;transform:scaleX(0.8);transform-origin:100% 0;">-</div>
<div class="t" style="top:333px;font-size:10.2px;letter-spacing:0.650px;right:490.08px;transform:scaleX(0.8);transform-origin:100% 0;">-</div>
<div class="t" style="top:333px;font-size:10.2px;letter-spacing:0.650px;right:430.18px;transform:scaleX(0.8);transform-origin:100% 0;">-</div>
<div class="t" style="top:333px;font-size:10.2px;letter-spacing:0.650px;right:377.28px;transform:scaleX(0.8);transform-origin:100% 0;">1</div>
<div class="t" style="top:333px;font-size:10.2px;letter-spacing:0.650px;right:312.48px;transform:scaleX(0.8);transform-origin:100% 0;">-</div>
<div class="t" style="top:333px;font-size:10.2px;letter-spacing:0.650px;right:259.98px;transform:scaleX(0.8);transform-origin:100% 0;">-</div>
<div class="t" style="top:333px;font-size:10.2px;letter-spacing:0.650px;right:197.08px;transform:scaleX(0.8);transform-origin:100% 0;">12</div>
<div class="t" style="top:333px;font-size:10.2px;letter-spacing:0.650px;right:143.58px;transform:scaleX(0.8);transform-origin:100% 0;">7</div>
<div class="t" style="top:333px;font-size:10.2px;letter-spacing:0.650px;right:78.98px;transform:scaleX(0.8);transform-origin:100% 0;">-</div>
<div class="t" style="top:333px;font-size:10.2px;letter-spacing:0.650px;right:25.48px;transform:scaleX(0.8);transform-origin:100% 0;">-</div>
<div class="t" style="top:343px;font-size:10.2px;letter-spacing:0.330px;left:6.86px;transform:scaleX(0.8);transform-origin:0 0;">Kans.</div>
<div class="t" style="top:343px;font-size:10.2px;letter-spacing:0.650px;right:548.48px;transform:scaleX(0.8);transform-origin:100% 0;">1</div>
<div class="t" style="top:343px;font-size:10.2px;letter-spacing:0.650px;right:490.08px;transform:scaleX(0.8);transform-origin:100% 0;">-</div>
<div class="t" style="top:343px;font-size:10.2px;letter-spacing:0.650px;right:430.18px;transform:scaleX(0.8);transform-origin:100% 0;">4</div>
<div class="t" style="top:343px;font-size:10.2px;letter-spacing:0.650px;right:377.28px;transform:scaleX(0.8);transform-origin:100% 0;">1</div>
<div class="t" style="top:343px;font-size:10.2px;letter-spacing:0.650px;right:312.48px;transform:scaleX(0.8);transform-origin:100% 0;">6</div>
<div class="t" style="top:343px;font-size:10.2px;letter-spacing:0.650px;right:259.98px;transform:scaleX(0.8);transform-origin:100% 0;">5</div>
<div class="t" style="top:343px;font-size:10.2px;letter-spacing:0.650px;right:197.08px;transform:scaleX(0.8);transform-origin:100% 0;">14</div>
<div class="t" style="top:343px;font-size:10.2px;letter-spacing:0.650px;right:143.58px;transform:scaleX(0.8);transform-origin:100% 0;">37</div>
<div class="t" style="top:343px;font-size:10.2px;letter-spacing:0.650px;right:78.98px;transform:scaleX(0.8);transform-origin:100% 0;">-</div>
<div class="t" style="top:343px;font-size:10.2px;letter-spacing:0.650px;right:25.48px;transform:scaleX(0.8);transform-origin:100% 0;">-</div>
<div class="t" style="top:357px;font-size:10.2px;letter-spacing:0.330px;left:6.86px;transform:scaleX(0.8);transform-origin:0 0;">S. ATLANTIC</div>
<div class="t" style="top:357px;font-size:10.2px;letter-spacing:0.650px;right:548.48px;transform:scaleX(0.8);transform-origin:100% 0;">66</div>
<div class="t" style="top:357px;font-size:10.2px;letter-spacing:0.650px;right:490.08px;transform:scaleX(0.8);transform-origin:100% 0;">119</div>
<div class="t" style="top:357px;font-size:10.2px;letter-spacing:0.650px;right:430.18px;transform:scaleX(0.8);transform-origin:100% 0;">58</div>
<div class="t" style="top:357px;font-size:10.2px;letter-spacing:0.650px;right:377.28px;transform:scaleX(0.8);transform-origin:100% 0;">142</div>
<div class="t" style="top:357px;font-size:10.2px;letter-spacing:0.650px;right:312.48px;transform:scaleX(0.8);transform-origin:100% 0;">63</div>
<div class="t" style="top:357px;font-size:10.2px;letter-spacing:0.650px;right:259.98px;transform:scaleX(0.8);transform-origin:100% 0;">167</div>
<div class="t" style="top:357px;font-size:10.2px;letter-spacing:0.650px;right:197.08px;transform:scaleX(0.8);transform-origin:100% 0;">210</div>
<div class="t" style="top:357px;font-size:10.2px;letter-spacing:0.650px;right:143.58px;transform:scaleX(0.8);transform-origin:100% 0;">456</div>
<div class="t" style="top:357px;font-size:10.2px;letter-spacing:0.650px;right:78.98px;transform:scaleX(0.8);transform-origin:100% 0;">57</div>
<div class="t" style="top:357px;font-size:10.2px;letter-spacing:0.650px;right:25.48px;transform:scaleX(0.8);transform-origin:100% 0;">42</div>
<div class="t" style="top:366px;font-size:10.2px;letter-spacing:0.330px;left:6.86px;transform:scaleX(0.8);transform-origin:0 0;">Del.</div>
<div class="t" style="top:366px;font-size:10.2px;letter-spacing:0.650px;right:548.48px;transform:scaleX(0.8);transform-origin:100% 0;">-</div>
<div class="t" style="top:366px;font-size:10.2px;letter-spacing:0.650px;right:490.08px;transform:scaleX(0.8);transform-origin:100% 0;">-</div>
<div class="t" style="top:366px;font-size:10.2px;letter-spacing:0.650px;right:430.18px;transform:scaleX(0.8);transform-origin:100% 0;">1</div>
<div class="t" style="top:366px;font-size:10.2px;letter-spacing:0.650px;right:377.28px;transform:scaleX(0.8);transform-origin:100% 0;">4</div>
<div class="t" style="top:366px;font-size:10.2px;letter-spacing:0.650px;right:312.48px;transform:scaleX(0.8);transform-origin:100% 0;">2</div>
<div class="t" style="top:366px;font-size:10.2px;letter-spacing:0.650px;right:259.98px;transform:scaleX(0.8);transform-origin:100% 0;">-</div>
<div class="t" style="top:366px;font-size:10.2px;letter-spacing:0.650px;right:197.08px;transform:scaleX(0.8);transform-origin:100% 0;">1</div>
<div class="t" style="top:366px;font-size:10.2px;letter-spacing:0.650px;right:143.58px;transform:scaleX(0.8);transform-origin:100% 0;">-</div>
<div class="t" style="top:366px;font-size:10.2px;letter-spacing:0.650px;right:78.98px;transform:scaleX(0.8);transform-origin:100% 0;">-</div>
<div class="t" style="top:366px;font-size:10.2px;letter-spacing:0.650px;right:25.48px;transform:scaleX(0.8);transform-origin:100% 0;">-</div>
<div class="t" style="top:376px;font-size:10.2px;letter-spacing:0.330px;left:6.86px;transform:scaleX(0.8);transform-origin:0 0;">Md.</div>
<div class="t" style="top:376px;font-size:10.2px;letter-spacing:0.650px;right:548.48px;transform:scaleX(0.8);transform-origin:100% 0;">19</div>
<div class="t" style="top:376px;font-size:10.2px;letter-spacing:0.650px;right:490.08px;transform:scaleX(0.8);transform-origin:100% 0;">16</div>
<div class="t" style="top:376px;font-size:10.2px;letter-spacing:0.650px;right:430.18px;transform:scaleX(0.8);transform-origin:100% 0;">4</div>
<div class="t" style="top:376px;font-size:10.2px;letter-spacing:0.650px;right:377.28px;transform:scaleX(0.8);transform-origin:100% 0;">5</div>
<div class="t" style="top:376px;font-size:10.2px;letter-spacing:0.650px;right:312.48px;transform:scaleX(0.8);transform-origin:100% 0;">20</div>
<div class="t" style="top:376px;font-size:10.2px;letter-spacing:0.650px;right:259.98px;transform:scaleX(0.8);transform-origin:100% 0;">13</div>
<div class="t" style="top:376px;font-size:10.2px;letter-spacing:0.650px;right:197.08px;transform:scaleX(0.8);transform-origin:100% 0;">13</div>
<div class="t" style="top:376px;font-size:10.2px;letter-spacing:0.650px;right:143.58px;transform:scaleX(0.8);transform-origin:100% 0;">48</div>
<div class="t" style="top:376px;font-size:10.2px;letter-spacing:0.650px;right:78.98px;transform:scaleX(0.8);transform-origin:100% 0;">3</div>
<div class="t" style="top:376px;font-size:10.2px;letter-spacing:0.650px;right:25.48px;transform:scaleX(0.8);transform-origin:100% 0;">4</div>
<div class="t" style="top:385px;font-size:10.2px;letter-spacing:0.330px;left:6.86px;transform:scaleX(0.8);transform-origin:0 0;">D.C.</div>
<div class="t" style="top:385px;font-size:10.2px;letter-spacing:0.650px;right:548.48px;transform:scaleX(0.8);transform-origin:100% 0;">3</div>
<div class="t" style="top:385px;font-size:10.2px;letter-spacing:0.650px;right:490.08px;transform:scaleX(0.8);transform-origin:100% 0;">-</div>
<div class="t" style="top:385px;font-size:10.2px;letter-spacing:0.650px;right:430.18px;transform:scaleX(0.8);transform-origin:100% 0;">-</div>
<div class="t" style="top:385px;font-size:10.2px;letter-spacing:0.650px;right:377.28px;transform:scaleX(0.8);transform-origin:100% 0;">-</div>
<div class="t" style="top:385px;font-size:10.2px;letter-spacing:0.650px;right:312.48px;transform:scaleX(0.8);transform-origin:100% 0;">1</div>
<div class="t" style="top:385px;font-size:10.2px;letter-spacing:0.650px;right:259.98px;transform:scaleX(0.8);transform-origin:100% 0;">-</div>
<div class="t" style="top:385px;font-size:10.2px;letter-spacing:0.650px;right:197.08px;transform:scaleX(0.8);transform-origin:100% 0;">-</div>
<div class="t" style="top:385px;font-size:10.2px;letter-spacing:0.650px;right:143.58px;transform:scaleX(0.8);transform-origin:100% 0;">-</div>
<div class="t" style="top:385px;font-size:10.2px;letter-spacing:0.650px;right:78.98px;transform:scaleX(0.8);transform-origin:100% 0;">-</div>
<div class="t" style="top:385px;font-size:10.2px;letter-spacing:0.650px;right:25.48px;transform:scaleX(0.8);transform-origin:100% 0;">-</div>
<div class="t" style="top:395px;font-size:10.2px;letter-spacing:0.330px;left:6.86px;transform:scaleX(0.8);transform-origin:0 0;">Va.</div>
<div class="t" style="top:395px;font-size:10.2px;letter-spacing:0.650px;right:548.48px;transform:scaleX(0.8);transform-origin:100% 0;">4</div>
<div class="t" style="top:395px;font-size:10.2px;letter-spacing:0.650px;right:490.08px;transform:scaleX(0.8);transform-origin:100% 0;">3</div>
<div class="t" style="top:395px;font-size:10.2px;letter-spacing:0.650px;right:430.18px;transform:scaleX(0.8);transform-origin:100% 0;">2</div>
<div class="t" style="top:395px;font-size:10.2px;letter-spacing:0.650px;right:377.28px;transform:scaleX(0.8);transform-origin:100% 0;">5</div>
<div class="t" style="top:395px;font-size:10.2px;letter-spacing:0.650px;right:312.48px;transform:scaleX(0.8);transform-origin:100% 0;">10</div>
<div class="t" style="top:395px;font-size:10.2px;letter-spacing:0.650px;right:259.98px;transform:scaleX(0.8);transform-origin:100% 0;">1</div>
<div class="t" style="top:395px;font-size:10.2px;letter-spacing:0.650px;right:197.08px;transform:scaleX(0.8);transform-origin:100% 0;">15</div>
<div class="t" style="top:395px;font-size:10.2px;letter-spacing:0.650px;right:143.58px;transform:scaleX(0.8);transform-origin:100% 0;">66</div>
<div class="t" style="top:395px;font-size:10.2px;letter-spacing:0.650px;right:78.98px;transform:scaleX(0.8);transform-origin:100% 0;">-</div>
<div class="t" style="top:395px;font-size:10.2px;letter-spacing:0.650px;right:25.48px;transform:scaleX(0.8);transform-origin:100% 0;">1</div>
<div class="t" style="top:404px;font-size:10.2px;letter-spacing:0.330px;left:6.86px;transform:scaleX(0.8);transform-origin:0 0;">W. Va.</div>
<div class="t" style="top:404px;font-size:10.2px;letter-spacing:0.650px;right:548.48px;transform:scaleX(0.8);transform-origin:100% 0;">-</div>
<div class="t" style="top:404px;font-size:10.2px;letter-spacing:0.650px;right:490.08px;transform:scaleX(0.8);transform-origin:100% 0;">2</div>
<div class="t" style="top:404px;font-size:10.2px;letter-spacing:0.650px;right:430.18px;transform:scaleX(0.8);transform-origin:100% 0;">3</div>
<div class="t" style="top:404px;font-size:10.2px;letter-spacing:0.650px;right:377.28px;transform:scaleX(0.8);transform-origin:100% 0;">1</div>
<div class="t" style="top:404px;font-size:10.2px;letter-spacing:0.650px;right:312.48px;transform:scaleX(0.8);transform-origin:100% 0;">-</div>
<div class="t" style="top:404px;font-size:10.2px;letter-spacing:0.650px;right:259.98px;transform:scaleX(0.8);transform-origin:100% 0;">-</div>
<div class="t" style="top:404px;font-size:10.2px;letter-spacing:0.650px;right:197.08px;transform:scaleX(0.8);transform-origin:100% 0;">11</div>
<div class="t" style="top:404px;font-size:10.2px;letter-spacing:0.650px;right:143.58px;transform:scaleX(0.8);transform-origin:100% 0;">9</div>
<div class="t" style="top:404px;font-size:10.2px;letter-spacing:0.650px;right:78.98px;transform:scaleX(0.8);transform-origin:100% 0;">-</div>
<div class="t" style="top:404px;font-size:10.2px;letter-spacing:0.650px;right:25.48px;transform:scaleX(0.8);transform-origin:100% 0;">-</div>
<div class="t" style="top:413px;font-size:10.2px;letter-spacing:0.330px;left:6.86px;transform:scaleX(0.8);transform-origin:0 0;">N.C.</div>
<div class="t" style="top:413px;font-size:10.2px;letter-spacing:0.650px;right:548.48px;transform:scaleX(0.8);transform-origin:100% 0;">3</div>
<div class="t" style="top:413px;font-size:10.2px;letter-spacing:0.650px;right:490.08px;transform:scaleX(0.8);transform-origin:100% 0;">4</div>
<div class="t" style="top:413px;font-size:10.2px;letter-spacing:0.650px;right:430.18px;transform:scaleX(0.8);transform-origin:100% 0;">7</div>
<div class="t" style="top:413px;font-size:10.2px;letter-spacing:0.650px;right:377.28px;transform:scaleX(0.8);transform-origin:100% 0;">5</div>
<div class="t" style="top:413px;font-size:10.2px;letter-spacing:0.650px;right:312.48px;transform:scaleX(0.8);transform-origin:100% 0;">16</div>
<div class="t" style="top:413px;font-size:10.2px;letter-spacing:0.650px;right:259.98px;transform:scaleX(0.8);transform-origin:100% 0;">34</div>
<div class="t" style="top:413px;font-size:10.2px;letter-spacing:0.650px;right:197.08px;transform:scaleX(0.8);transform-origin:100% 0;">90</div>
<div class="t" style="top:413px;font-size:10.2px;letter-spacing:0.650px;right:143.58px;transform:scaleX(0.8);transform-origin:100% 0;">96</div>
<div class="t" style="top:413px;font-size:10.2px;letter-spacing:0.650px;right:78.98px;transform:scaleX(0.8);transform-origin:100% 0;">52</div>
<div class="t" style="top:413px;font-size:10.2px;letter-spacing:0.650px;right:25.48px;transform:scaleX(0.8);transform-origin:100% 0;">18</div>
<div class="t" style="top:423px;font-size:10.2px;letter-spacing:0.330px;left:6.86px;transform:scaleX(0.8);transform-origin:0 0;">S.C.</div>
<div class="t" style="top:423px;font-size:10.2px;letter-spacing:0.650px;right:548.48px;transform:scaleX(0.8);transform-origin:100% 0;">1</div>
<div class="t" style="top:423px;font-size:10.2px;letter-spacing:0.650px;right:490.08px;transform:scaleX(0.8);transform-origin:100% 0;">-</div>
<div class="t" style="top:423px;font-size:10.2px;letter-spacing:0.650px;right:430.18px;transform:scaleX(0.8);transform-origin:100% 0;">1</div>
<div class="t" style="top:423px;font-size:10.2px;letter-spacing:0.650px;right:377.28px;transform:scaleX(0.8);transform-origin:100% 0;">5</div>
<div class="t" style="top:423px;font-size:10.2px;letter-spacing:0.650px;right:312.48px;transform:scaleX(0.8);transform-origin:100% 0;">2</div>
<div class="t" style="top:423px;font-size:10.2px;letter-spacing:0.650px;right:259.98px;transform:scaleX(0.8);transform-origin:100% 0;">1</div>
<div class="t" style="top:423px;font-size:10.2px;letter-spacing:0.650px;right:197.08px;transform:scaleX(0.8);transform-origin:100% 0;">16</div>
<div class="t" style="top:423px;font-size:10.2px;letter-spacing:0.650px;right:143.58px;transform:scaleX(0.8);transform-origin:100% 0;">23</div>
<div class="t" style="top:423px;font-size:10.2px;letter-spacing:0.650px;right:78.98px;transform:scaleX(0.8);transform-origin:100% 0;">-</div>
<div class="t" style="top:423px;font-size:10.2px;letter-spacing:0.650px;right:25.48px;transform:scaleX(0.8);transform-origin:100% 0;">-</div>
<div class="t" style="top:432px;font-size:10.2px;letter-spacing:0.330px;left:6.86px;transform:scaleX(0.8);transform-origin:0 0;">Ga.</div>
<div class="t" style="top:432px;font-size:10.2px;letter-spacing:0.650px;right:548.48px;transform:scaleX(0.8);transform-origin:100% 0;">10</div>
<div class="t" style="top:432px;font-size:10.2px;letter-spacing:0.650px;right:490.08px;transform:scaleX(0.8);transform-origin:100% 0;">2</div>
<div class="t" style="top:432px;font-size:10.2px;letter-spacing:0.650px;right:430.18px;transform:scaleX(0.8);transform-origin:100% 0;">10</div>
<div class="t" style="top:432px;font-size:10.2px;letter-spacing:0.650px;right:377.28px;transform:scaleX(0.8);transform-origin:100% 0;">10</div>
<div class="t" style="top:432px;font-size:10.2px;letter-spacing:0.650px;right:312.48px;transform:scaleX(0.8);transform-origin:100% 0;">-</div>
<div class="t" style="top:432px;font-size:10.2px;letter-spacing:0.650px;right:259.98px;transform:scaleX(0.8);transform-origin:100% 0;">4</div>
<div class="t" style="top:432px;font-size:10.2px;letter-spacing:0.650px;right:197.08px;transform:scaleX(0.8);transform-origin:100% 0;">64</div>
<div class="t" style="top:432px;font-size:10.2px;letter-spacing:0.650px;right:143.58px;transform:scaleX(0.8);transform-origin:100% 0;">46</div>
<div class="t" style="top:432px;font-size:10.2px;letter-spacing:0.650px;right:78.98px;transform:scaleX(0.8);transform-origin:100% 0;">2</div>
<div class="t" style="top:432px;font-size:10.2px;letter-spacing:0.650px;right:25.48px;transform:scaleX(0.8);transform-origin:100% 0;">1</div>
<div class="t" style="top:441px;font-size:10.2px;letter-spacing:0.330px;left:6.86px;transform:scaleX(0.8);transform-origin:0 0;">Fla.</div>
<div class="t" style="top:441px;font-size:10.2px;letter-spacing:0.650px;right:548.48px;transform:scaleX(0.8);transform-origin:100% 0;">26</div>
<div class="t" style="top:441px;font-size:10.2px;letter-spacing:0.650px;right:490.08px;transform:scaleX(0.8);transform-origin:100% 0;">92</div>
<div class="t" style="top:441px;font-size:10.2px;letter-spacing:0.650px;right:430.18px;transform:scaleX(0.8);transform-origin:100% 0;">30</div>
<div class="t" style="top:441px;font-size:10.2px;letter-spacing:0.650px;right:377.28px;transform:scaleX(0.8);transform-origin:100% 0;">107</div>
<div class="t" style="top:441px;font-size:10.2px;letter-spacing:0.650px;right:312.48px;transform:scaleX(0.8);transform-origin:100% 0;">12</div>
<div class="t" style="top:441px;font-size:10.2px;letter-spacing:0.650px;right:259.98px;transform:scaleX(0.8);transform-origin:100% 0;">114</div>
<div class="t" style="top:441px;font-size:10.2px;letter-spacing:0.650px;right:197.08px;transform:scaleX(0.8);transform-origin:100% 0;">-</div>
<div class="t" style="top:441px;font-size:10.2px;letter-spacing:0.650px;right:143.58px;transform:scaleX(0.8);transform-origin:100% 0;">168</div>
<div class="t" style="top:441px;font-size:10.2px;letter-spacing:0.650px;right:78.98px;transform:scaleX(0.8);transform-origin:100% 0;">-</div>
<div class="t" style="top:441px;font-size:10.2px;letter-spacing:0.650px;right:25.48px;transform:scaleX(0.8);transform-origin:100% 0;">18</div>
<div class="t" style="top:456px;font-size:10.2px;letter-spacing:0.330px;left:6.86px;transform:scaleX(0.8);transform-origin:0 0;">E.S. CENTRAL</div>
<div class="t" style="top:456px;font-size:10.2px;letter-spacing:0.650px;right:548.48px;transform:scaleX(0.8);transform-origin:100% 0;">3</div>
<div class="t" style="top:456px;font-size:10.2px;letter-spacing:0.650px;right:490.08px;transform:scaleX(0.8);transform-origin:100% 0;">5</div>
<div class="t" style="top:456px;font-size:10.2px;letter-spacing:0.650px;right:430.18px;transform:scaleX(0.8);transform-origin:100% 0;">15</div>
<div class="t" style="top:456px;font-size:10.2px;letter-spacing:0.650px;right:377.28px;transform:scaleX(0.8);transform-origin:100% 0;">19</div>
<div class="t" style="top:456px;font-size:10.2px;letter-spacing:0.650px;right:312.48px;transform:scaleX(0.8);transform-origin:100% 0;">19</div>
<div class="t" style="top:456px;font-size:10.2px;letter-spacing:0.650px;right:259.98px;transform:scaleX(0.8);transform-origin:100% 0;">21</div>
<div class="t" style="top:456px;font-size:10.2px;letter-spacing:0.650px;right:197.08px;transform:scaleX(0.8);transform-origin:100% 0;">9</div>
<div class="t" style="top:456px;font-size:10.2px;letter-spacing:0.650px;right:143.58px;transform:scaleX(0.8);transform-origin:100% 0;">20</div>
<div class="t" style="top:456px;font-size:10.2px;letter-spacing:0.650px;right:78.98px;transform:scaleX(0.8);transform-origin:100% 0;">7</div>
<div class="t" style="top:456px;font-size:10.2px;letter-spacing:0.650px;right:25.48px;transform:scaleX(0.8);transform-origin:100% 0;">2</div>
<div class="t" style="top:465px;font-size:10.2px;letter-spacing:0.330px;left:6.86px;transform:scaleX(0.8);transform-origin:0 0;">Ky.</div>
<div class="t" style="top:465px;font-size:10.2px;letter-spacing:0.650px;right:548.48px;transform:scaleX(0.8);transform-origin:100% 0;">1</div>
<div class="t" style="top:465px;font-size:10.2px;letter-spacing:0.650px;right:490.08px;transform:scaleX(0.8);transform-origin:100% 0;">1</div>
<div class="t" style="top:465px;font-size:10.2px;letter-spacing:0.650px;right:430.18px;transform:scaleX(0.8);transform-origin:100% 0;">2</div>
<div class="t" style="top:465px;font-size:10.2px;letter-spacing:0.650px;right:377.28px;transform:scaleX(0.8);transform-origin:100% 0;">1</div>
<div class="t" style="top:465px;font-size:10.2px;letter-spacing:0.650px;right:312.48px;transform:scaleX(0.8);transform-origin:100% 0;">2</div>
<div class="t" style="top:465px;font-size:10.2px;letter-spacing:0.650px;right:259.98px;transform:scaleX(0.8);transform-origin:100% 0;">3</div>
<div class="t" style="top:465px;font-size:10.2px;letter-spacing:0.650px;right:197.08px;transform:scaleX(0.8);transform-origin:100% 0;">2</div>
<div class="t" style="top:465px;font-size:10.2px;letter-spacing:0.650px;right:143.58px;transform:scaleX(0.8);transform-origin:100% 0;">3</div>
<div class="t" style="top:465px;font-size:10.2px;letter-spacing:0.650px;right:78.98px;transform:scaleX(0.8);transform-origin:100% 0;">-</div>
<div class="t" style="top:465px;font-size:10.2px;letter-spacing:0.650px;right:25.48px;transform:scaleX(0.8);transform-origin:100% 0;">-</div>
<div class="t" style="top:475px;font-size:10.2px;letter-spacing:0.330px;left:6.86px;transform:scaleX(0.8);transform-origin:0 0;">Tenn.</div>
<div class="t" style="top:475px;font-size:10.2px;letter-spacing:0.650px;right:548.48px;transform:scaleX(0.8);transform-origin:100% 0;">-</div>
<div class="t" style="top:475px;font-size:10.2px;letter-spacing:0.650px;right:490.08px;transform:scaleX(0.8);transform-origin:100% 0;">2</div>
<div class="t" style="top:475px;font-size:10.2px;letter-spacing:0.650px;right:430.18px;transform:scaleX(0.8);transform-origin:100% 0;">7</div>
<div class="t" style="top:475px;font-size:10.2px;letter-spacing:0.650px;right:377.28px;transform:scaleX(0.8);transform-origin:100% 0;">3</div>
<div class="t" style="top:475px;font-size:10.2px;letter-spacing:0.650px;right:312.48px;transform:scaleX(0.8);transform-origin:100% 0;">12</div>
<div class="t" style="top:475px;font-size:10.2px;letter-spacing:0.650px;right:259.98px;transform:scaleX(0.8);transform-origin:100% 0;">8</div>
<div class="t" style="top:475px;font-size:10.2px;letter-spacing:0.650px;right:197.08px;transform:scaleX(0.8);transform-origin:100% 0;">5</div>
<div class="t" style="top:475px;font-size:10.2px;letter-spacing:0.650px;right:143.58px;transform:scaleX(0.8);transform-origin:100% 0;">15</div>
<div class="t" style="top:475px;font-size:10.2px;letter-spacing:0.650px;right:78.98px;transform:scaleX(0.8);transform-origin:100% 0;">2</div>
<div class="t" style="top:475px;font-size:10.2px;letter-spacing:0.650px;right:25.48px;transform:scaleX(0.8);transform-origin:100% 0;">1</div>
<div class="t" style="top:484px;font-size:10.2px;letter-spacing:0.330px;left:6.86px;transform:scaleX(0.8);transform-origin:0 0;">Ala.</div>
<div class="t" style="top:484px;font-size:10.2px;letter-spacing:0.650px;right:548.48px;transform:scaleX(0.8);transform-origin:100% 0;">1</div>
<div class="t" style="top:484px;font-size:10.2px;letter-spacing:0.650px;right:490.08px;transform:scaleX(0.8);transform-origin:100% 0;">2</div>
<div class="t" style="top:484px;font-size:10.2px;letter-spacing:0.650px;right:430.18px;transform:scaleX(0.8);transform-origin:100% 0;">2</div>
<div class="t" style="top:484px;font-size:10.2px;letter-spacing:0.650px;right:377.28px;transform:scaleX(0.8);transform-origin:100% 0;">4</div>
<div class="t" style="top:484px;font-size:10.2px;letter-spacing:0.650px;right:312.48px;transform:scaleX(0.8);transform-origin:100% 0;">1</div>
<div class="t" style="top:484px;font-size:10.2px;letter-spacing:0.650px;right:259.98px;transform:scaleX(0.8);transform-origin:100% 0;">8</div>
<div class="t" style="top:484px;font-size:10.2px;letter-spacing:0.650px;right:197.08px;transform:scaleX(0.8);transform-origin:100% 0;">2</div>
<div class="t" style="top:484px;font-size:10.2px;letter-spacing:0.650px;right:143.58px;transform:scaleX(0.8);transform-origin:100% 0;">2</div>
<div class="t" style="top:484px;font-size:10.2px;letter-spacing:0.650px;right:78.98px;transform:scaleX(0.8);transform-origin:100% 0;">1</div>
<div class="t" style="top:484px;font-size:10.2px;letter-spacing:0.650px;right:25.48px;transform:scaleX(0.8);transform-origin:100% 0;">-</div>
<div class="t" style="top:493px;font-size:10.2px;letter-spacing:0.330px;left:6.86px;transform:scaleX(0.8);transform-origin:0 0;">Miss.</div>
<div class="t" style="top:493px;font-size:10.2px;letter-spacing:0.650px;right:548.48px;transform:scaleX(0.8);transform-origin:100% 0;">1</div>
<div class="t" style="top:493px;font-size:10.2px;letter-spacing:0.650px;right:490.08px;transform:scaleX(0.8);transform-origin:100% 0;">-</div>
<div class="t" style="top:493px;font-size:10.2px;letter-spacing:0.650px;right:430.18px;transform:scaleX(0.8);transform-origin:100% 0;">4</div>
<div class="t" style="top:493px;font-size:10.2px;letter-spacing:0.650px;right:377.28px;transform:scaleX(0.8);transform-origin:100% 0;">11</div>
<div class="t" style="top:493px;font-size:10.2px;letter-spacing:0.650px;right:312.48px;transform:scaleX(0.8);transform-origin:100% 0;">4</div>
<div class="t" style="top:493px;font-size:10.2px;letter-spacing:0.650px;right:259.98px;transform:scaleX(0.8);transform-origin:100% 0;">2</div>
<div class="t" style="top:493px;font-size:10.2px;letter-spacing:0.650px;right:197.08px;transform:scaleX(0.8);transform-origin:100% 0;">-</div>
<div class="t" style="top:493px;font-size:10.2px;letter-spacing:0.650px;right:143.58px;transform:scaleX(0.8);transform-origin:100% 0;">-</div>
<div class="t" style="top:493px;font-size:10.2px;letter-spacing:0.650px;right:78.98px;transform:scaleX(0.8);transform-origin:100% 0;">4</div>
<div class="t" style="top:493px;font-size:10.2px;letter-spacing:0.650px;right:25.48px;transform:scaleX(0.8);transform-origin:100% 0;">1</div>
<div class="t" style="top:508px;font-size:10.2px;letter-spacing:0.330px;left:6.86px;transform:scaleX(0.8);transform-origin:0 0;">W.S. CENTRAL</div>
<div class="t" style="top:508px;font-size:10.2px;letter-spacing:0.650px;right:548.48px;transform:scaleX(0.8);transform-origin:100% 0;">4</div>
<div class="t" style="top:508px;font-size:10.2px;letter-spacing:0.650px;right:490.08px;transform:scaleX(0.8);transform-origin:100% 0;">16</div>
<div class="t" style="top:508px;font-size:10.2px;letter-spacing:0.650px;right:430.18px;transform:scaleX(0.8);transform-origin:100% 0;">32</div>
<div class="t" style="top:508px;font-size:10.2px;letter-spacing:0.650px;right:377.28px;transform:scaleX(0.8);transform-origin:100% 0;">43</div>
<div class="t" style="top:508px;font-size:10.2px;letter-spacing:0.650px;right:312.48px;transform:scaleX(0.8);transform-origin:100% 0;">4</div>
<div class="t" style="top:508px;font-size:10.2px;letter-spacing:0.650px;right:259.98px;transform:scaleX(0.8);transform-origin:100% 0;">25</div>
<div class="t" style="top:508px;font-size:10.2px;letter-spacing:0.650px;right:197.08px;transform:scaleX(0.8);transform-origin:100% 0;">18</div>
<div class="t" style="top:508px;font-size:10.2px;letter-spacing:0.650px;right:143.58px;transform:scaleX(0.8);transform-origin:100% 0;">14</div>
<div class="t" style="top:508px;font-size:10.2px;letter-spacing:0.650px;right:78.98px;transform:scaleX(0.8);transform-origin:100% 0;">-</div>
<div class="t" style="top:508px;font-size:10.2px;letter-spacing:0.650px;right:25.48px;transform:scaleX(0.8);transform-origin:100% 0;">2</div>
<div class="t" style="top:517px;font-size:10.2px;letter-spacing:0.330px;left:6.86px;transform:scaleX(0.8);transform-origin:0 0;">Ark.</div>
<div class="t" style="top:517px;font-size:10.2px;letter-spacing:0.650px;right:548.48px;transform:scaleX(0.8);transform-origin:100% 0;">1</div>
<div class="t" style="top:517px;font-size:10.2px;letter-spacing:0.650px;right:490.08px;transform:scaleX(0.8);transform-origin:100% 0;">1</div>
<div class="t" style="top:517px;font-size:10.2px;letter-spacing:0.650px;right:430.18px;transform:scaleX(0.8);transform-origin:100% 0;">5</div>
<div class="t" style="top:517px;font-size:10.2px;letter-spacing:0.650px;right:377.28px;transform:scaleX(0.8);transform-origin:100% 0;">2</div>
<div class="t" style="top:517px;font-size:10.2px;letter-spacing:0.650px;right:312.48px;transform:scaleX(0.8);transform-origin:100% 0;">2</div>
<div class="t" style="top:517px;font-size:10.2px;letter-spacing:0.650px;right:259.98px;transform:scaleX(0.8);transform-origin:100% 0;">1</div>
<div class="t" style="top:517px;font-size:10.2px;letter-spacing:0.650px;right:197.08px;transform:scaleX(0.8);transform-origin:100% 0;">7</div>
<div class="t" style="top:517px;font-size:10.2px;letter-spacing:0.650px;right:143.58px;transform:scaleX(0.8);transform-origin:100% 0;">-</div>
<div class="t" style="top:517px;font-size:10.2px;letter-spacing:0.650px;right:78.98px;transform:scaleX(0.8);transform-origin:100% 0;">-</div>
<div class="t" style="top:517px;font-size:10.2px;letter-spacing:0.650px;right:25.48px;transform:scaleX(0.8);transform-origin:100% 0;">-</div>
<div class="t" style="top:526px;font-size:10.2px;letter-spacing:0.330px;left:6.86px;transform:scaleX(0.8);transform-origin:0 0;">La.</div>
<div class="t" style="top:526px;font-size:10.2px;letter-spacing:0.650px;right:548.48px;transform:scaleX(0.8);transform-origin:100% 0;">2</div>
<div class="t" style="top:526px;font-size:10.2px;letter-spacing:0.650px;right:490.08px;transform:scaleX(0.8);transform-origin:100% 0;">1</div>
<div class="t" style="top:526px;font-size:10.2px;letter-spacing:0.650px;right:430.18px;transform:scaleX(0.8);transform-origin:100% 0;">9</div>
<div class="t" style="top:526px;font-size:10.2px;letter-spacing:0.650px;right:377.28px;transform:scaleX(0.8);transform-origin:100% 0;">14</div>
<div class="t" style="top:526px;font-size:10.2px;letter-spacing:0.650px;right:312.48px;transform:scaleX(0.8);transform-origin:100% 0;">2</div>
<div class="t" style="top:526px;font-size:10.2px;letter-spacing:0.650px;right:259.98px;transform:scaleX(0.8);transform-origin:100% 0;">4</div>
<div class="t" style="top:526px;font-size:10.2px;letter-spacing:0.650px;right:197.08px;transform:scaleX(0.8);transform-origin:100% 0;">-</div>
<div class="t" style="top:526px;font-size:10.2px;letter-spacing:0.650px;right:143.58px;transform:scaleX(0.8);transform-origin:100% 0;">-</div>
<div class="t" style="top:526px;font-size:10.2px;letter-spacing:0.650px;right:78.98px;transform:scaleX(0.8);transform-origin:100% 0;">-</div>
<div class="t" style="top:526px;font-size:10.2px;letter-spacing:0.650px;right:25.48px;transform:scaleX(0.8);transform-origin:100% 0;">-</div>
<div class="t" style="top:536px;font-size:10.2px;letter-spacing:0.330px;left:6.86px;transform:scaleX(0.8);transform-origin:0 0;">Okla.</div>
<div class="t" style="top:536px;font-size:10.2px;letter-spacing:0.650px;right:548.48px;transform:scaleX(0.8);transform-origin:100% 0;">1</div>
<div class="t" style="top:536px;font-size:10.2px;letter-spacing:0.650px;right:490.08px;transform:scaleX(0.8);transform-origin:100% 0;">-</div>
<div class="t" style="top:536px;font-size:10.2px;letter-spacing:0.650px;right:430.18px;transform:scaleX(0.8);transform-origin:100% 0;">1</div>
<div class="t" style="top:536px;font-size:10.2px;letter-spacing:0.650px;right:377.28px;transform:scaleX(0.8);transform-origin:100% 0;">3</div>
<div class="t" style="top:536px;font-size:10.2px;letter-spacing:0.650px;right:312.48px;transform:scaleX(0.8);transform-origin:100% 0;">-</div>
<div class="t" style="top:536px;font-size:10.2px;letter-spacing:0.650px;right:259.98px;transform:scaleX(0.8);transform-origin:100% 0;">2</div>
<div class="t" style="top:536px;font-size:10.2px;letter-spacing:0.650px;right:197.08px;transform:scaleX(0.8);transform-origin:100% 0;">11</div>
<div class="t" style="top:536px;font-size:10.2px;letter-spacing:0.650px;right:143.58px;transform:scaleX(0.8);transform-origin:100% 0;">14</div>
<div class="t" style="top:536px;font-size:10.2px;letter-spacing:0.650px;right:78.98px;transform:scaleX(0.8);transform-origin:100% 0;">-</div>
<div class="t" style="top:536px;font-size:10.2px;letter-spacing:0.650px;right:25.48px;transform:scaleX(0.8);transform-origin:100% 0;">-</div>
<div class="t" style="top:545px;font-size:10.2px;letter-spacing:0.330px;left:6.86px;transform:scaleX(0.8);transform-origin:0 0;">Tex.</div>
<div class="t" style="top:545px;font-size:10.2px;letter-spacing:0.650px;right:548.48px;transform:scaleX(0.8);transform-origin:100% 0;">-</div>
<div class="t" style="top:545px;font-size:10.2px;letter-spacing:0.650px;right:490.08px;transform:scaleX(0.8);transform-origin:100% 0;">14</div>
<div class="t" style="top:545px;font-size:10.2px;letter-spacing:0.650px;right:430.18px;transform:scaleX(0.8);transform-origin:100% 0;">17</div>
<div class="t" style="top:545px;font-size:10.2px;letter-spacing:0.650px;right:377.28px;transform:scaleX(0.8);transform-origin:100% 0;">24</div>
<div class="t" style="top:545px;font-size:10.2px;letter-spacing:0.650px;right:312.48px;transform:scaleX(0.8);transform-origin:100% 0;">-</div>
<div class="t" style="top:545px;font-size:10.2px;letter-spacing:0.650px;right:259.98px;transform:scaleX(0.8);transform-origin:100% 0;">18</div>
<div class="t" style="top:545px;font-size:10.2px;letter-spacing:0.650px;right:197.08px;transform:scaleX(0.8);transform-origin:100% 0;">-</div>
<div class="t" style="top:545px;font-size:10.2px;letter-spacing:0.650px;right:143.58px;transform:scaleX(0.8);transform-origin:100% 0;">-</div>
<div class="t" style="top:545px;font-size:10.2px;letter-spacing:0.650px;right:78.98px;transform:scaleX(0.8);transform-origin:100% 0;">-</div>
<div class="t" style="top:545px;font-size:10.2px;letter-spacing:0.650px;right:25.48px;transform:scaleX(0.8);transform-origin:100% 0;">2</div>
<div class="t" style="top:560px;font-size:10.2px;letter-spacing:0.330px;left:6.86px;transform:scaleX(0.8);transform-origin:0 0;">MOUNTAIN</div>
<div class="t" style="top:560px;font-size:10.2px;letter-spacing:0.650px;right:548.48px;transform:scaleX(0.8);transform-origin:100% 0;">7</div>
<div class="t" style="top:560px;font-size:10.2px;letter-spacing:0.650px;right:490.08px;transform:scaleX(0.8);transform-origin:100% 0;">5</div>
<div class="t" style="top:560px;font-size:10.2px;letter-spacing:0.650px;right:430.18px;transform:scaleX(0.8);transform-origin:100% 0;">22</div>
<div class="t" style="top:560px;font-size:10.2px;letter-spacing:0.650px;right:377.28px;transform:scaleX(0.8);transform-origin:100% 0;">13</div>
<div class="t" style="top:560px;font-size:10.2px;letter-spacing:0.650px;right:312.48px;transform:scaleX(0.8);transform-origin:100% 0;">124</div>
<div class="t" style="top:560px;font-size:10.2px;letter-spacing:0.650px;right:259.98px;transform:scaleX(0.8);transform-origin:100% 0;">146</div>
<div class="t" style="top:560px;font-size:10.2px;letter-spacing:0.650px;right:197.08px;transform:scaleX(0.8);transform-origin:100% 0;">13</div>
<div class="t" style="top:560px;font-size:10.2px;letter-spacing:0.650px;right:143.58px;transform:scaleX(0.8);transform-origin:100% 0;">12</div>
<div class="t" style="top:560px;font-size:10.2px;letter-spacing:0.650px;right:78.98px;transform:scaleX(0.8);transform-origin:100% 0;">-</div>
<div class="t" style="top:560px;font-size:10.2px;letter-spacing:0.650px;right:25.48px;transform:scaleX(0.8);transform-origin:100% 0;">-</div>
<div class="t" style="top:569px;font-size:10.2px;letter-spacing:0.330px;left:6.86px;transform:scaleX(0.8);transform-origin:0 0;">Mont.</div>
<div class="t" style="top:569px;font-size:10.2px;letter-spacing:0.650px;right:548.48px;transform:scaleX(0.8);transform-origin:100% 0;">-</div>
<div class="t" style="top:569px;font-size:10.2px;letter-spacing:0.650px;right:490.08px;transform:scaleX(0.8);transform-origin:100% 0;">-</div>
<div class="t" style="top:569px;font-size:10.2px;letter-spacing:0.650px;right:430.18px;transform:scaleX(0.8);transform-origin:100% 0;">1</div>
<div class="t" style="top:569px;font-size:10.2px;letter-spacing:0.650px;right:377.28px;transform:scaleX(0.8);transform-origin:100% 0;">-</div>
<div class="t" style="top:569px;font-size:10.2px;letter-spacing:0.650px;right:312.48px;transform:scaleX(0.8);transform-origin:100% 0;">4</div>
<div class="t" style="top:569px;font-size:10.2px;letter-spacing:0.650px;right:259.98px;transform:scaleX(0.8);transform-origin:100% 0;">-</div>
<div class="t" style="top:569px;font-size:10.2px;letter-spacing:0.650px;right:197.08px;transform:scaleX(0.8);transform-origin:100% 0;">-</div>
<div class="t" style="top:569px;font-size:10.2px;letter-spacing:0.650px;right:143.58px;transform:scaleX(0.8);transform-origin:100% 0;">1</div>
<div class="t" style="top:569px;font-size:10.2px;letter-spacing:0.650px;right:78.98px;transform:scaleX(0.8);transform-origin:100% 0;">-</div>
<div class="t" style="top:569px;font-size:10.2px;letter-spacing:0.650px;right:25.48px;transform:scaleX(0.8);transform-origin:100% 0;">-</div>
<div class="t" style="top:578px;font-size:10.2px;letter-spacing:0.330px;left:6.86px;transform:scaleX(0.8);transform-origin:0 0;">Idaho</div>
<div class="t" style="top:578px;font-size:10.2px;letter-spacing:0.650px;right:548.48px;transform:scaleX(0.8);transform-origin:100% 0;">-</div>
<div class="t" style="top:578px;font-size:10.2px;letter-spacing:0.650px;right:490.08px;transform:scaleX(0.8);transform-origin:100% 0;">1</div>
<div class="t" style="top:578px;font-size:10.2px;letter-spacing:0.650px;right:430.18px;transform:scaleX(0.8);transform-origin:100% 0;">3</div>
<div class="t" style="top:578px;font-size:10.2px;letter-spacing:0.650px;right:377.28px;transform:scaleX(0.8);transform-origin:100% 0;">-</div>
<div class="t" style="top:578px;font-size:10.2px;letter-spacing:0.650px;right:312.48px;transform:scaleX(0.8);transform-origin:100% 0;">13</div>
<div class="t" style="top:578px;font-size:10.2px;letter-spacing:0.650px;right:259.98px;transform:scaleX(0.8);transform-origin:100% 0;">7</div>
<div class="t" style="top:578px;font-size:10.2px;letter-spacing:0.650px;right:197.08px;transform:scaleX(0.8);transform-origin:100% 0;">-</div>
<div class="t" style="top:578px;font-size:10.2px;letter-spacing:0.650px;right:143.58px;transform:scaleX(0.8);transform-origin:100% 0;">-</div>
<div class="t" style="top:578px;font-size:10.2px;letter-spacing:0.650px;right:78.98px;transform:scaleX(0.8);transform-origin:100% 0;">-</div>
<div class="t" style="top:578px;font-size:10.2px;letter-spacing:0.650px;right:25.48px;transform:scaleX(0.8);transform-origin:100% 0;">-</div>
<div class="t" style="top:588px;font-size:10.2px;letter-spacing:0.330px;left:6.86px;transform:scaleX(0.8);transform-origin:0 0;">Wyo.</div>
<div class="t" style="top:588px;font-size:10.2px;letter-spacing:0.650px;right:548.48px;transform:scaleX(0.8);transform-origin:100% 0;">-</div>
<div class="t" style="top:588px;font-size:10.2px;letter-spacing:0.650px;right:490.08px;transform:scaleX(0.8);transform-origin:100% 0;">-</div>
<div class="t" style="top:588px;font-size:10.2px;letter-spacing:0.650px;right:430.18px;transform:scaleX(0.8);transform-origin:100% 0;">2</div>
<div class="t" style="top:588px;font-size:10.2px;letter-spacing:0.650px;right:377.28px;transform:scaleX(0.8);transform-origin:100% 0;">-</div>
<div class="t" style="top:588px;font-size:10.2px;letter-spacing:0.650px;right:312.48px;transform:scaleX(0.8);transform-origin:100% 0;">2</div>
<div class="t" style="top:588px;font-size:10.2px;letter-spacing:0.650px;right:259.98px;transform:scaleX(0.8);transform-origin:100% 0;">-</div>
<div class="t" style="top:588px;font-size:10.2px;letter-spacing:0.650px;right:197.08px;transform:scaleX(0.8);transform-origin:100% 0;">-</div>
<div class="t" style="top:588px;font-size:10.2px;letter-spacing:0.650px;right:143.58px;transform:scaleX(0.8);transform-origin:100% 0;">-</div>
<div class="t" style="top:588px;font-size:10.2px;letter-spacing:0.650px;right:78.98px;transform:scaleX(0.8);transform-origin:100% 0;">-</div>
<div class="t" style="top:588px;font-size:10.2px;letter-spacing:0.650px;right:25.48px;transform:scaleX(0.8);transform-origin:100% 0;">-</div>
<div class="t" style="top:597px;font-size:10.2px;letter-spacing:0.330px;left:6.86px;transform:scaleX(0.8);transform-origin:0 0;">Colo.</div>
<div class="t" style="top:597px;font-size:10.2px;letter-spacing:0.650px;right:548.48px;transform:scaleX(0.8);transform-origin:100% 0;">3</div>
<div class="t" style="top:597px;font-size:10.2px;letter-spacing:0.650px;right:490.08px;transform:scaleX(0.8);transform-origin:100% 0;">3</div>
<div class="t" style="top:597px;font-size:10.2px;letter-spacing:0.650px;right:430.18px;transform:scaleX(0.8);transform-origin:100% 0;">9</div>
<div class="t" style="top:597px;font-size:10.2px;letter-spacing:0.650px;right:377.28px;transform:scaleX(0.8);transform-origin:100% 0;">4</div>
<div class="t" style="top:597px;font-size:10.2px;letter-spacing:0.650px;right:312.48px;transform:scaleX(0.8);transform-origin:100% 0;">69</div>
<div class="t" style="top:597px;font-size:10.2px;letter-spacing:0.650px;right:259.98px;transform:scaleX(0.8);transform-origin:100% 0;">71</div>
<div class="t" style="top:597px;font-size:10.2px;letter-spacing:0.650px;right:197.08px;transform:scaleX(0.8);transform-origin:100% 0;">-</div>
<div class="t" style="top:597px;font-size:10.2px;letter-spacing:0.650px;right:143.58px;transform:scaleX(0.8);transform-origin:100% 0;">-</div>
<div class="t" style="top:597px;font-size:10.2px;letter-spacing:0.650px;right:78.98px;transform:scaleX(0.8);transform-origin:100% 0;">-</div>
<div class="t" style="top:597px;font-size:10.2px;letter-spacing:0.650px;right:25.48px;transform:scaleX(0.8);transform-origin:100% 0;">-</div>
<div class="t" style="top:606px;font-size:10.2px;letter-spacing:0.330px;left:6.86px;transform:scaleX(0.8);transform-origin:0 0;">N. Mex.</div>
<div class="t" style="top:606px;font-size:10.2px;letter-spacing:0.650px;right:548.48px;transform:scaleX(0.8);transform-origin:100% 0;">1</div>
<div class="t" style="top:606px;font-size:10.2px;letter-spacing:0.650px;right:490.08px;transform:scaleX(0.8);transform-origin:100% 0;">-</div>
<div class="t" style="top:606px;font-size:10.2px;letter-spacing:0.650px;right:430.18px;transform:scaleX(0.8);transform-origin:100% 0;">1</div>
<div class="t" style="top:606px;font-size:10.2px;letter-spacing:0.650px;right:377.28px;transform:scaleX(0.8);transform-origin:100% 0;">2</div>
<div class="t" style="top:606px;font-size:10.2px;letter-spacing:0.650px;right:312.48px;transform:scaleX(0.8);transform-origin:100% 0;">3</div>
<div class="t" style="top:606px;font-size:10.2px;letter-spacing:0.650px;right:259.98px;transform:scaleX(0.8);transform-origin:100% 0;">16</div>
<div class="t" style="top:606px;font-size:10.2px;letter-spacing:0.650px;right:197.08px;transform:scaleX(0.8);transform-origin:100% 0;">-</div>
<div class="t" style="top:606px;font-size:10.2px;letter-spacing:0.650px;right:143.58px;transform:scaleX(0.8);transform-origin:100% 0;">-</div>
<div class="t" style="top:606px;font-size:10.2px;letter-spacing:0.650px;right:78.98px;transform:scaleX(0.8);transform-origin:100% 0;">-</div>
<div class="t" style="top:606px;font-size:10.2px;letter-spacing:0.650px;right:25.48px;transform:scaleX(0.8);transform-origin:100% 0;">-</div>
<div class="t" style="top:616px;font-size:10.2px;letter-spacing:0.330px;left:6.86px;transform:scaleX(0.8);transform-origin:0 0;">Ariz.</div>
<div class="t" style="top:616px;font-size:10.2px;letter-spacing:0.650px;right:548.48px;transform:scaleX(0.8);transform-origin:100% 0;">1</div>
<div class="t" style="top:616px;font-size:10.2px;letter-spacing:0.650px;right:490.08px;transform:scaleX(0.8);transform-origin:100% 0;">1</div>
<div class="t" style="top:616px;font-size:10.2px;letter-spacing:0.650px;right:430.18px;transform:scaleX(0.8);transform-origin:100% 0;">5</div>
<div class="t" style="top:616px;font-size:10.2px;letter-spacing:0.650px;right:377.28px;transform:scaleX(0.8);transform-origin:100% 0;">4</div>
<div class="t" style="top:616px;font-size:10.2px;letter-spacing:0.650px;right:312.48px;transform:scaleX(0.8);transform-origin:100% 0;">16</div>
<div class="t" style="top:616px;font-size:10.2px;letter-spacing:0.650px;right:259.98px;transform:scaleX(0.8);transform-origin:100% 0;">36</div>
<div class="t" style="top:616px;font-size:10.2px;letter-spacing:0.650px;right:197.08px;transform:scaleX(0.8);transform-origin:100% 0;">13</div>
<div class="t" style="top:616px;font-size:10.2px;letter-spacing:0.650px;right:143.58px;transform:scaleX(0.8);transform-origin:100% 0;">11</div>
<div class="t" style="top:616px;font-size:10.2px;letter-spacing:0.650px;right:78.98px;transform:scaleX(0.8);transform-origin:100% 0;">-</div>
<div class="t" style="top:616px;font-size:10.2px;letter-spacing:0.650px;right:25.48px;transform:scaleX(0.8);transform-origin:100% 0;">-</div>
<div class="t" style="top:625px;font-size:10.2px;letter-spacing:0.330px;left:6.86px;transform:scaleX(0.8);transform-origin:0 0;">Utah</div>
<div class="t" style="top:625px;font-size:10.2px;letter-spacing:0.650px;right:548.48px;transform:scaleX(0.8);transform-origin:100% 0;">1</div>
<div class="t" style="top:625px;font-size:10.2px;letter-spacing:0.650px;right:490.08px;transform:scaleX(0.8);transform-origin:100% 0;">-</div>
<div class="t" style="top:625px;font-size:10.2px;letter-spacing:0.650px;right:430.18px;transform:scaleX(0.8);transform-origin:100% 0;">1</div>
<div class="t" style="top:625px;font-size:10.2px;letter-spacing:0.650px;right:377.28px;transform:scaleX(0.8);transform-origin:100% 0;">-</div>
<div class="t" style="top:625px;font-size:10.2px;letter-spacing:0.650px;right:312.48px;transform:scaleX(0.8);transform-origin:100% 0;">17</div>
<div class="t" style="top:625px;font-size:10.2px;letter-spacing:0.650px;right:259.98px;transform:scaleX(0.8);transform-origin:100% 0;">11</div>
<div class="t" style="top:625px;font-size:10.2px;letter-spacing:0.650px;right:197.08px;transform:scaleX(0.8);transform-origin:100% 0;">-</div>
<div class="t" style="top:625px;font-size:10.2px;letter-spacing:0.650px;right:143.58px;transform:scaleX(0.8);transform-origin:100% 0;">-</div>
<div class="t" style="top:625px;font-size:10.2px;letter-spacing:0.650px;right:78.98px;transform:scaleX(0.8);transform-origin:100% 0;">-</div>
<div class="t" style="top:625px;font-size:10.2px;letter-spacing:0.650px;right:25.48px;transform:scaleX(0.8);transform-origin:100% 0;">-</div>
<div class="t" style="top:635px;font-size:10.2px;letter-spacing:0.330px;left:6.86px;transform:scaleX(0.8);transform-origin:0 0;">Nev.</div>
<div class="t" style="top:635px;font-size:10.2px;letter-spacing:0.650px;right:548.48px;transform:scaleX(0.8);transform-origin:100% 0;">1</div>
<div class="t" style="top:635px;font-size:10.2px;letter-spacing:0.650px;right:490.08px;transform:scaleX(0.8);transform-origin:100% 0;">-</div>
<div class="t" style="top:635px;font-size:10.2px;letter-spacing:0.650px;right:430.18px;transform:scaleX(0.8);transform-origin:100% 0;">-</div>
<div class="t" style="top:635px;font-size:10.2px;letter-spacing:0.650px;right:377.28px;transform:scaleX(0.8);transform-origin:100% 0;">3</div>
<div class="t" style="top:635px;font-size:10.2px;letter-spacing:0.650px;right:312.48px;transform:scaleX(0.8);transform-origin:100% 0;">-</div>
<div class="t" style="top:635px;font-size:10.2px;letter-spacing:0.650px;right:259.98px;transform:scaleX(0.8);transform-origin:100% 0;">5</div>
<div class="t" style="top:635px;font-size:10.2px;letter-spacing:0.650px;right:197.08px;transform:scaleX(0.8);transform-origin:100% 0;">-</div>
<div class="t" style="top:635px;font-size:10.2px;letter-spacing:0.650px;right:143.58px;transform:scaleX(0.8);transform-origin:100% 0;">-</div>
<div class="t" style="top:635px;font-size:10.2px;letter-spacing:0.650px;right:78.98px;transform:scaleX(0.8);transform-origin:100% 0;">-</div>
<div class="t" style="top:635px;font-size:10.2px;letter-spacing:0.650px;right:25.48px;transform:scaleX(0.8);transform-origin:100% 0;">-</div>
<div class="t" style="top:649px;font-size:10.2px;letter-spacing:0.330px;left:6.86px;transform:scaleX(0.8);transform-origin:0 0;">PACIFIC</div>
<div class="t" style="top:649px;font-size:10.2px;letter-spacing:0.650px;right:548.48px;transform:scaleX(0.8);transform-origin:100% 0;">17</div>
<div class="t" style="top:649px;font-size:10.2px;letter-spacing:0.650px;right:490.08px;transform:scaleX(0.8);transform-origin:100% 0;">36</div>
<div class="t" style="top:649px;font-size:10.2px;letter-spacing:0.650px;right:430.18px;transform:scaleX(0.8);transform-origin:100% 0;">87</div>
<div class="t" style="top:649px;font-size:10.2px;letter-spacing:0.650px;right:377.28px;transform:scaleX(0.8);transform-origin:100% 0;">69</div>
<div class="t" style="top:649px;font-size:10.2px;letter-spacing:0.650px;right:312.48px;transform:scaleX(0.8);transform-origin:100% 0;">72</div>
<div class="t" style="top:649px;font-size:10.2px;letter-spacing:0.650px;right:259.98px;transform:scaleX(0.8);transform-origin:100% 0;">367</div>
<div class="t" style="top:649px;font-size:10.2px;letter-spacing:0.650px;right:197.08px;transform:scaleX(0.8);transform-origin:100% 0;">8</div>
<div class="t" style="top:649px;font-size:10.2px;letter-spacing:0.650px;right:143.58px;transform:scaleX(0.8);transform-origin:100% 0;">17</div>
<div class="t" style="top:649px;font-size:10.2px;letter-spacing:0.650px;right:78.98px;transform:scaleX(0.8);transform-origin:100% 0;">1</div>
<div class="t" style="top:649px;font-size:10.2px;letter-spacing:0.650px;right:25.48px;transform:scaleX(0.8);transform-origin:100% 0;">-</div>
<div class="t" style="top:658px;font-size:10.2px;letter-spacing:0.330px;left:6.86px;transform:scaleX(0.8);transform-origin:0 0;">Wash.</div>
<div class="t" style="top:658px;font-size:10.2px;letter-spacing:0.650px;right:548.48px;transform:scaleX(0.8);transform-origin:100% 0;">2</div>
<div class="t" style="top:658px;font-size:10.2px;letter-spacing:0.650px;right:490.08px;transform:scaleX(0.8);transform-origin:100% 0;">4</div>
<div class="t" style="top:658px;font-size:10.2px;letter-spacing:0.650px;right:430.18px;transform:scaleX(0.8);transform-origin:100% 0;">5</div>
<div class="t" style="top:658px;font-size:10.2px;letter-spacing:0.650px;right:377.28px;transform:scaleX(0.8);transform-origin:100% 0;">6</div>
<div class="t" style="top:658px;font-size:10.2px;letter-spacing:0.650px;right:312.48px;transform:scaleX(0.8);transform-origin:100% 0;">49</div>
<div class="t" style="top:658px;font-size:10.2px;letter-spacing:0.650px;right:259.98px;transform:scaleX(0.8);transform-origin:100% 0;">28</div>
<div class="t" style="top:658px;font-size:10.2px;letter-spacing:0.650px;right:197.08px;transform:scaleX(0.8);transform-origin:100% 0;">-</div>
<div class="t" style="top:658px;font-size:10.2px;letter-spacing:0.650px;right:143.58px;transform:scaleX(0.8);transform-origin:100% 0;">-</div>
<div class="t" style="top:658px;font-size:10.2px;letter-spacing:0.650px;right:78.98px;transform:scaleX(0.8);transform-origin:100% 0;">-</div>
<div class="t" style="top:658px;font-size:10.2px;letter-spacing:0.650px;right:25.48px;transform:scaleX(0.8);transform-origin:100% 0;">-</div>
<div class="t" style="top:668px;font-size:10.2px;letter-spacing:0.330px;left:6.86px;transform:scaleX(0.8);transform-origin:0 0;">Oreg.</div>
<div class="t" style="top:668px;font-size:10.2px;letter-spacing:0.650px;right:548.48px;transform:scaleX(0.8);transform-origin:100% 0;">1</div>
<div class="t" style="top:668px;font-size:10.2px;letter-spacing:0.650px;right:490.08px;transform:scaleX(0.8);transform-origin:100% 0;">5</div>
<div class="t" style="top:668px;font-size:10.2px;letter-spacing:0.650px;right:430.18px;transform:scaleX(0.8);transform-origin:100% 0;">16</div>
<div class="t" style="top:668px;font-size:10.2px;letter-spacing:0.650px;right:377.28px;transform:scaleX(0.8);transform-origin:100% 0;">15</div>
<div class="t" style="top:668px;font-size:10.2px;letter-spacing:0.650px;right:312.48px;transform:scaleX(0.8);transform-origin:100% 0;">22</div>
<div class="t" style="top:668px;font-size:10.2px;letter-spacing:0.650px;right:259.98px;transform:scaleX(0.8);transform-origin:100% 0;">45</div>
<div class="t" style="top:668px;font-size:10.2px;letter-spacing:0.650px;right:197.08px;transform:scaleX(0.8);transform-origin:100% 0;">-</div>
<div class="t" style="top:668px;font-size:10.2px;letter-spacing:0.650px;right:143.58px;transform:scaleX(0.8);transform-origin:100% 0;">-</div>
<div class="t" style="top:668px;font-size:10.2px;letter-spacing:0.650px;right:78.98px;transform:scaleX(0.8);transform-origin:100% 0;">-</div>
<div class="t" style="top:668px;font-size:10.2px;letter-spacing:0.650px;right:25.48px;transform:scaleX(0.8);transform-origin:100% 0;">-</div>
<div class="t" style="top:677px;font-size:10.2px;letter-spacing:0.330px;left:6.86px;transform:scaleX(0.8);transform-origin:0 0;">Calif.</div>
<div class="t" style="top:677px;font-size:10.2px;letter-spacing:0.650px;right:548.48px;transform:scaleX(0.8);transform-origin:100% 0;">14</div>
<div class="t" style="top:677px;font-size:10.2px;letter-spacing:0.650px;right:490.08px;transform:scaleX(0.8);transform-origin:100% 0;">27</div>
<div class="t" style="top:677px;font-size:10.2px;letter-spacing:0.650px;right:430.18px;transform:scaleX(0.8);transform-origin:100% 0;">62</div>
<div class="t" style="top:677px;font-size:10.2px;letter-spacing:0.650px;right:377.28px;transform:scaleX(0.8);transform-origin:100% 0;">45</div>
<div class="t" style="top:677px;font-size:10.2px;letter-spacing:0.650px;right:312.48px;transform:scaleX(0.8);transform-origin:100% 0;">-</div>
<div class="t" style="top:677px;font-size:10.2px;letter-spacing:0.650px;right:259.98px;transform:scaleX(0.8);transform-origin:100% 0;">293</div>
<div class="t" style="top:677px;font-size:10.2px;letter-spacing:0.650px;right:197.08px;transform:scaleX(0.8);transform-origin:100% 0;">8</div>
<div class="t" style="top:677px;font-size:10.2px;letter-spacing:0.650px;right:143.58px;transform:scaleX(0.8);transform-origin:100% 0;">16</div>
<div class="t" style="top:677px;font-size:10.2px;letter-spacing:0.650px;right:78.98px;transform:scaleX(0.8);transform-origin:100% 0;">1</div>
<div class="t" style="top:677px;font-size:10.2px;letter-spacing:0.650px;right:25.48px;transform:scaleX(0.8);transform-origin:100% 0;">-</div>
<div class="t" style="top:686px;font-size:10.2px;letter-spacing:0.330px;left:6.86px;transform:scaleX(0.8);transform-origin:0 0;">Alaska</div>
<div class="t" style="top:686px;font-size:10.2px;letter-spacing:0.650px;right:548.48px;transform:scaleX(0.8);transform-origin:100% 0;">-</div>
<div class="t" style="top:686px;font-size:10.2px;letter-spacing:0.650px;right:490.08px;transform:scaleX(0.8);transform-origin:100% 0;">-</div>
<div class="t" style="top:686px;font-size:10.2px;letter-spacing:0.650px;right:430.18px;transform:scaleX(0.8);transform-origin:100% 0;">1</div>
<div class="t" style="top:686px;font-size:10.2px;letter-spacing:0.650px;right:377.28px;transform:scaleX(0.8);transform-origin:100% 0;">-</div>
<div class="t" style="top:686px;font-size:10.2px;letter-spacing:0.650px;right:312.48px;transform:scaleX(0.8);transform-origin:100% 0;">1</div>
<div class="t" style="top:686px;font-size:10.2px;letter-spacing:0.650px;right:259.98px;transform:scaleX(0.8);transform-origin:100% 0;">-</div>
<div class="t" style="top:686px;font-size:10.2px;letter-spacing:0.650px;right:197.08px;transform:scaleX(0.8);transform-origin:100% 0;">-</div>
<div class="t" style="top:686px;font-size:10.2px;letter-spacing:0.650px;right:143.58px;transform:scaleX(0.8);transform-origin:100% 0;">1</div>
<div class="t" style="top:686px;font-size:10.2px;letter-spacing:0.650px;right:78.98px;transform:scaleX(0.8);transform-origin:100% 0;">-</div>
<div class="t" style="top:686px;font-size:10.2px;letter-spacing:0.650px;right:25.48px;transform:scaleX(0.8);transform-origin:100% 0;">-</div>
<div class="t" style="top:696px;font-size:10.2px;letter-spacing:0.330px;left:6.86px;transform:scaleX(0.8);transform-origin:0 0;">Hawaii</div>
<div class="t" style="top:696px;font-size:10.2px;letter-spacing:0.650px;right:548.48px;transform:scaleX(0.8);transform-origin:100% 0;">-</div>
<div class="t" style="top:696px;font-size:10.2px;letter-spacing:0.650px;right:490.08px;transform:scaleX(0.8);transform-origin:100% 0;">-</div>
<div class="t" style="top:696px;font-size:10.2px;letter-spacing:0.650px;right:430.18px;transform:scaleX(0.8);transform-origin:100% 0;">3</div>
<div class="t" style="top:696px;font-size:10.2px;letter-spacing:0.650px;right:377.28px;transform:scaleX(0.8);transform-origin:100% 0;">3</div>
<div class="t" style="top:696px;font-size:10.2px;letter-spacing:0.650px;right:312.48px;transform:scaleX(0.8);transform-origin:100% 0;">-</div>
<div class="t" style="top:696px;font-size:10.2px;letter-spacing:0.650px;right:259.98px;transform:scaleX(0.8);transform-origin:100% 0;">1</div>
<div class="t" style="top:696px;font-size:10.2px;letter-spacing:0.650px;right:197.08px;transform:scaleX(0.8);transform-origin:100% 0;">-</div>
<div class="t" style="top:696px;font-size:10.2px;letter-spacing:0.650px;right:143.58px;transform:scaleX(0.8);transform-origin:100% 0;">-</div>
<div class="t" style="top:696px;font-size:10.2px;letter-spacing:0.650px;right:78.98px;transform:scaleX(0.8);transform-origin:100% 0;">-</div>
<div class="t" style="top:696px;font-size:10.2px;letter-spacing:0.650px;right:25.48px;transform:scaleX(0.8);transform-origin:100% 0;">-</div>
<div class="t" style="top:710px;font-size:10.2px;letter-spacing:0.330px;left:6.86px;transform:scaleX(0.8);transform-origin:0 0;">Guam</div>
<div class="t" style="top:710px;font-size:10.2px;letter-spacing:0.650px;right:548.48px;transform:scaleX(0.8);transform-origin:100% 0;">-</div>
<div class="t" style="top:710px;font-size:10.2px;letter-spacing:0.650px;right:490.08px;transform:scaleX(0.8);transform-origin:100% 0;">-</div>
<div class="t" style="top:710px;font-size:10.2px;letter-spacing:0.650px;right:430.18px;transform:scaleX(0.8);transform-origin:100% 0;">-</div>
<div class="t" style="top:710px;font-size:10.2px;letter-spacing:0.650px;right:377.28px;transform:scaleX(0.8);transform-origin:100% 0;">-</div>
<div class="t" style="top:710px;font-size:10.2px;letter-spacing:0.650px;right:312.48px;transform:scaleX(0.8);transform-origin:100% 0;">-</div>
<div class="t" style="top:710px;font-size:10.2px;letter-spacing:0.650px;right:259.98px;transform:scaleX(0.8);transform-origin:100% 0;">-</div>
<div class="t" style="top:710px;font-size:10.2px;letter-spacing:0.650px;right:197.08px;transform:scaleX(0.8);transform-origin:100% 0;">-</div>
<div class="t" style="top:710px;font-size:10.2px;letter-spacing:0.650px;right:143.58px;transform:scaleX(0.8);transform-origin:100% 0;">-</div>
<div class="t" style="top:710px;font-size:10.2px;letter-spacing:0.650px;right:78.98px;transform:scaleX(0.8);transform-origin:100% 0;">-</div>
<div class="t" style="top:710px;font-size:10.2px;letter-spacing:0.650px;right:25.48px;transform:scaleX(0.8);transform-origin:100% 0;">-</div>
<div class="t" style="top:720px;font-size:10.2px;letter-spacing:0.330px;left:6.86px;transform:scaleX(0.8);transform-origin:0 0;">P.R.</div>
<div class="t" style="top:720px;font-size:10.2px;letter-spacing:0.650px;right:548.48px;transform:scaleX(0.8);transform-origin:100% 0;">-</div>
<div class="t" style="top:720px;font-size:10.2px;letter-spacing:0.650px;right:490.08px;transform:scaleX(0.8);transform-origin:100% 0;">-</div>
<div class="t" style="top:720px;font-size:10.2px;letter-spacing:0.650px;right:430.18px;transform:scaleX(0.8);transform-origin:100% 0;">-</div>
<div class="t" style="top:720px;font-size:10.2px;letter-spacing:0.650px;right:377.28px;transform:scaleX(0.8);transform-origin:100% 0;">1</div>
<div class="t" style="top:720px;font-size:10.2px;letter-spacing:0.650px;right:312.48px;transform:scaleX(0.8);transform-origin:100% 0;">-</div>
<div class="t" style="top:720px;font-size:10.2px;letter-spacing:0.650px;right:259.98px;transform:scaleX(0.8);transform-origin:100% 0;">-</div>
<div class="t" style="top:720px;font-size:10.2px;letter-spacing:0.650px;right:197.08px;transform:scaleX(0.8);transform-origin:100% 0;">11</div>
<div class="t" style="top:720px;font-size:10.2px;letter-spacing:0.650px;right:143.58px;transform:scaleX(0.8);transform-origin:100% 0;">8</div>
<div class="t" style="top:720px;font-size:10.2px;letter-spacing:0.650px;right:78.98px;transform:scaleX(0.8);transform-origin:100% 0;">N</div>
<div class="t" style="top:720px;font-size:10.2px;letter-spacing:0.650px;right:25.48px;transform:scaleX(0.8);transform-origin:100% 0;">N</div>
<div class="t" style="top:729px;font-size:10.2px;letter-spacing:0.330px;left:6.86px;transform:scaleX(0.8);transform-origin:0 0;">V.I.</div>
<div class="t" style="top:729px;font-size:10.2px;letter-spacing:0.650px;right:548.48px;transform:scaleX(0.8);transform-origin:100% 0;">-</div>
<div class="t" style="top:729px;font-size:10.2px;letter-spacing:0.650px;right:490.08px;transform:scaleX(0.8);transform-origin:100% 0;">-</div>
<div class="t" style="top:729px;font-size:10.2px;letter-spacing:0.650px;right:430.18px;transform:scaleX(0.8);transform-origin:100% 0;">-</div>
<div class="t" style="top:729px;font-size:10.2px;letter-spacing:0.650px;right:377.28px;transform:scaleX(0.8);transform-origin:100% 0;">-</div>
<div class="t" style="top:729px;font-size:10.2px;letter-spacing:0.650px;right:312.48px;transform:scaleX(0.8);transform-origin:100% 0;">-</div>
<div class="t" style="top:729px;font-size:10.2px;letter-spacing:0.650px;right:259.98px;transform:scaleX(0.8);transform-origin:100% 0;">-</div>
<div class="t" style="top:729px;font-size:10.2px;letter-spacing:0.650px;right:197.08px;transform:scaleX(0.8);transform-origin:100% 0;">-</div>
<div class="t" style="top:729px;font-size:10.2px;letter-spacing:0.650px;right:143.58px;transform:scaleX(0.8);transform-origin:100% 0;">-</div>
<div class="t" style="top:729px;font-size:10.2px;letter-spacing:0.650px;right:78.98px;transform:scaleX(0.8);transform-origin:100% 0;">-</div>
<div class="t" style="top:729px;font-size:10.2px;letter-spacing:0.650px;right:25.48px;transform:scaleX(0.8);transform-origin:100% 0;">-</div>
<div class="t" style="top:738px;font-size:10.2px;letter-spacing:0.330px;left:6.86px;transform:scaleX(0.8);transform-origin:0 0;">Amer. Samoa</div>
<div class="t" style="top:738px;font-size:10.2px;letter-spacing:0.650px;right:548.48px;transform:scaleX(0.8);transform-origin:100% 0;">U</div>
<div class="t" style="top:738px;font-size:10.2px;letter-spacing:0.650px;right:490.08px;transform:scaleX(0.8);transform-origin:100% 0;">U</div>
<div class="t" style="top:738px;font-size:10.2px;letter-spacing:0.650px;right:430.18px;transform:scaleX(0.8);transform-origin:100% 0;">U</div>
<div class="t" style="top:738px;font-size:10.2px;letter-spacing:0.650px;right:377.28px;transform:scaleX(0.8);transform-origin:100% 0;">U</div>
<div class="t" style="top:738px;font-size:10.2px;letter-spacing:0.650px;right:312.48px;transform:scaleX(0.8);transform-origin:100% 0;">U</div>
<div class="t" style="top:738px;font-size:10.2px;letter-spacing:0.650px;right:259.98px;transform:scaleX(0.8);transform-origin:100% 0;">U</div>
<div class="t" style="top:738px;font-size:10.2px;letter-spacing:0.650px;right:197.08px;transform:scaleX(0.8);transform-origin:100% 0;">U</div>
<div class="t" style="top:738px;font-size:10.2px;letter-spacing:0.650px;right:143.58px;transform:scaleX(0.8);transform-origin:100% 0;">U</div>
<div class="t" style="top:738px;font-size:10.2px;letter-spacing:0.650px;right:78.98px;transform:scaleX(0.8);transform-origin:100% 0;">U</div>
<div class="t" style="top:738px;font-size:10.2px;letter-spacing:0.650px;right:25.48px;transform:scaleX(0.8);transform-origin:100% 0;">U</div>
<div class="t" style="top:748px;font-size:10.2px;letter-spacing:0.330px;left:6.86px;transform:scaleX(0.8);transform-origin:0 0;">C.N.M.I.</div>
<div class="t" style="top:748px;font-size:10.2px;letter-spacing:0.650px;right:548.48px;transform:scaleX(0.8);transform-origin:100% 0;">-</div>
<div class="t" style="top:748px;font-size:10.2px;letter-spacing:0.650px;right:490.08px;transform:scaleX(0.8);transform-origin:100% 0;">U</div>
<div class="t" style="top:748px;font-size:10.2px;letter-spacing:0.650px;right:430.18px;transform:scaleX(0.8);transform-origin:100% 0;">-</div>
<div class="t" style="top:748px;font-size:10.2px;letter-spacing:0.650px;right:377.28px;transform:scaleX(0.8);transform-origin:100% 0;">U</div>
<div class="t" style="top:748px;font-size:10.2px;letter-spacing:0.650px;right:312.48px;transform:scaleX(0.8);transform-origin:100% 0;">-</div>
<div class="t" style="top:748px;font-size:10.2px;letter-spacing:0.650px;right:259.98px;transform:scaleX(0.8);transform-origin:100% 0;">U</div>
<div class="t" style="top:748px;font-size:10.2px;letter-spacing:0.650px;right:197.08px;transform:scaleX(0.8);transform-origin:100% 0;">-</div>
<div class="t" style="top:748px;font-size:10.2px;letter-spacing:0.650px;right:143.58px;transform:scaleX(0.8);transform-origin:100% 0;">U</div>
<div class="t" style="top:748px;font-size:10.2px;letter-spacing:0.650px;right:78.98px;transform:scaleX(0.8);transform-origin:100% 0;">-</div>
<div class="t" style="top:748px;font-size:10.2px;letter-spacing:0.650px;right:25.48px;transform:scaleX(0.8);transform-origin:100% 0;">U</div>
<div class="t" style="top:762px;font-size:10.0px;letter-spacing:0.224px;left:6.36px;transform:scaleX(0.8);transform-origin:0 0;">N: Not notifiable.</div>
<div class="t" style="top:762px;font-size:10.0px;letter-spacing:0.221px;left:96.20px;transform:scaleX(0.8);transform-origin:0 0;">U: Unavailable.</div>
<div class="t" style="top:762px;font-size:10.0px;letter-spacing:0.385px;left:185.74px;transform:scaleX(0.8);transform-origin:0 0;">- : No reported cases.</div>
<div class="t" style="top:771px;font-size:10.0px;left:7.95px;transform:scaleX(0.9);transform-origin:0 0;">*</div>
<div class="t" style="top:771px;font-size:10.0px;letter-spacing:0.144px;left:14.24px;transform:scaleX(0.84);transform-origin:0 0;">Incidence data for reporting years 2003 and 2004 are provisional and cumulative (year-to-date).</div>
</div></body></html>
